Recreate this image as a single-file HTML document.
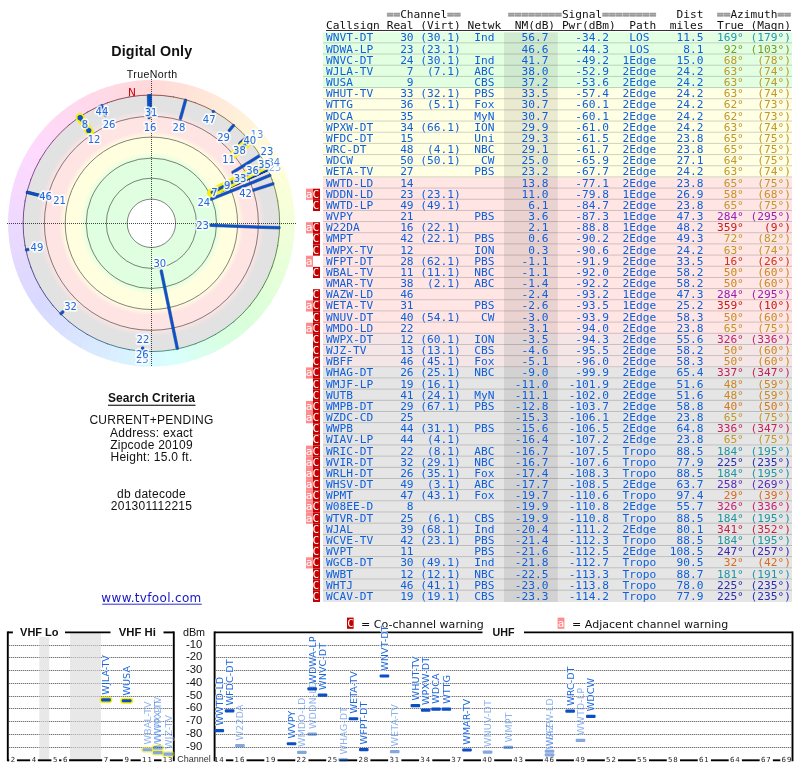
<!DOCTYPE html>
<html lang="en"><head><meta charset="utf-8"><title>TV Fool - Digital Only radar plot</title>
<style>html,body{margin:0;padding:0;background:#fff;overflow:hidden}svg{display:block}text{white-space:pre}</style></head><body>
<svg width="800" height="768" viewBox="0 0 800 768">
<rect width="800" height="768" fill="#fff"/>
<path d="M150.65,80.00 A143.3,143.3 0 0 1 159.65,80.24 L158.73,96.21 A127.30000000000001,127.30000000000001 0 0 0 150.73,96.00 Z" fill="#ffdad9" />
<path d="M158.15,80.16 A143.3,143.3 0 0 1 167.12,80.87 L165.37,96.77 A127.30000000000001,127.30000000000001 0 0 0 157.40,96.14 Z" fill="#ffdbd9" />
<path d="M165.63,80.71 A143.3,143.3 0 0 1 174.56,81.88 L171.97,97.67 A127.30000000000001,127.30000000000001 0 0 0 164.04,96.63 Z" fill="#ffddd9" />
<path d="M173.08,81.65 A143.3,143.3 0 0 1 181.93,83.29 L178.52,98.92 A127.30000000000001,127.30000000000001 0 0 0 170.66,97.46 Z" fill="#ffdfd9" />
<path d="M180.46,82.98 A143.3,143.3 0 0 1 189.21,85.08 L184.99,100.51 A127.30000000000001,127.30000000000001 0 0 0 177.21,98.64 Z" fill="#ffe1d9" />
<path d="M187.76,84.69 A143.3,143.3 0 0 1 196.40,87.25 L191.37,102.44 A127.30000000000001,127.30000000000001 0 0 0 183.70,100.17 Z" fill="#ffe2d9" />
<path d="M194.97,86.78 A143.3,143.3 0 0 1 203.45,89.79 L197.64,104.70 A127.30000000000001,127.30000000000001 0 0 0 190.10,102.03 Z" fill="#ffe4d9" />
<path d="M202.05,89.25 A143.3,143.3 0 0 1 210.37,92.70 L203.79,107.28 A127.30000000000001,127.30000000000001 0 0 0 196.40,104.22 Z" fill="#ffe6d9" />
<path d="M209.00,92.09 A143.3,143.3 0 0 1 217.12,95.96 L209.79,110.18 A127.30000000000001,127.30000000000001 0 0 0 202.57,106.74 Z" fill="#ffe8d9" />
<path d="M215.79,95.28 A143.3,143.3 0 0 1 223.70,99.58 L215.63,113.39 A127.30000000000001,127.30000000000001 0 0 0 208.60,109.57 Z" fill="#ffe9d9" />
<path d="M222.40,98.83 A143.3,143.3 0 0 1 230.07,103.53 L221.29,116.90 A127.30000000000001,127.30000000000001 0 0 0 214.47,112.72 Z" fill="#ffebd9" />
<path d="M228.82,102.71 A143.3,143.3 0 0 1 236.24,107.81 L226.76,120.71 A127.30000000000001,127.30000000000001 0 0 0 220.17,116.18 Z" fill="#ffedd9" />
<path d="M235.02,106.93 A143.3,143.3 0 0 1 242.16,112.41 L232.03,124.79 A127.30000000000001,127.30000000000001 0 0 0 225.68,119.92 Z" fill="#ffefd9" />
<path d="M241.00,111.46 A143.3,143.3 0 0 1 247.84,117.31 L237.07,129.14 A127.30000000000001,127.30000000000001 0 0 0 230.99,123.95 Z" fill="#fff0d9" />
<path d="M246.73,116.31 A143.3,143.3 0 0 1 253.26,122.50 L241.88,133.76 A127.30000000000001,127.30000000000001 0 0 0 236.08,128.25 Z" fill="#fff2d9" />
<path d="M252.20,121.44 A143.3,143.3 0 0 1 258.39,127.97 L246.45,138.62 A127.30000000000001,127.30000000000001 0 0 0 240.94,132.82 Z" fill="#fff4d9" />
<path d="M257.39,126.86 A143.3,143.3 0 0 1 263.24,133.70 L250.75,143.71 A127.30000000000001,127.30000000000001 0 0 0 245.56,137.63 Z" fill="#fff6d9" />
<path d="M262.29,132.54 A143.3,143.3 0 0 1 267.77,139.68 L254.78,149.02 A127.30000000000001,127.30000000000001 0 0 0 249.91,142.67 Z" fill="#fff7d9" />
<path d="M266.89,138.46 A143.3,143.3 0 0 1 271.99,145.88 L258.52,154.53 A127.30000000000001,127.30000000000001 0 0 0 253.99,147.94 Z" fill="#fff9d9" />
<path d="M271.17,144.63 A143.3,143.3 0 0 1 275.87,152.30 L261.98,160.23 A127.30000000000001,127.30000000000001 0 0 0 257.80,153.41 Z" fill="#fffbd9" />
<path d="M275.12,151.00 A143.3,143.3 0 0 1 279.42,158.91 L265.13,166.10 A127.30000000000001,127.30000000000001 0 0 0 261.31,159.07 Z" fill="#fffdd9" />
<path d="M278.74,157.58 A143.3,143.3 0 0 1 282.61,165.70 L267.96,172.13 A127.30000000000001,127.30000000000001 0 0 0 264.52,164.91 Z" fill="#fffed9" />
<path d="M282.00,164.33 A143.3,143.3 0 0 1 285.45,172.65 L270.48,178.30 A127.30000000000001,127.30000000000001 0 0 0 267.42,170.91 Z" fill="#feffd9" />
<path d="M284.91,171.25 A143.3,143.3 0 0 1 287.92,179.73 L272.67,184.60 A127.30000000000001,127.30000000000001 0 0 0 270.00,177.06 Z" fill="#fdffd9" />
<path d="M287.45,178.30 A143.3,143.3 0 0 1 290.01,186.94 L274.53,191.00 A127.30000000000001,127.30000000000001 0 0 0 272.26,183.33 Z" fill="#fbffd9" />
<path d="M289.62,185.49 A143.3,143.3 0 0 1 291.72,194.24 L276.06,197.49 A127.30000000000001,127.30000000000001 0 0 0 274.19,189.71 Z" fill="#f9ffd9" />
<path d="M291.41,192.77 A143.3,143.3 0 0 1 293.05,201.62 L277.24,204.04 A127.30000000000001,127.30000000000001 0 0 0 275.78,196.18 Z" fill="#f8ffd9" />
<path d="M292.82,200.14 A143.3,143.3 0 0 1 293.99,209.07 L278.07,210.66 A127.30000000000001,127.30000000000001 0 0 0 277.03,202.73 Z" fill="#f6ffd9" />
<path d="M293.83,207.58 A143.3,143.3 0 0 1 294.54,216.55 L278.56,217.30 A127.30000000000001,127.30000000000001 0 0 0 277.93,209.33 Z" fill="#f5ffd9" />
<path d="M294.46,215.05 A143.3,143.3 0 0 1 294.70,224.05 L278.70,223.97 A127.30000000000001,127.30000000000001 0 0 0 278.49,215.97 Z" fill="#f3ffd9" />
<path d="M294.70,222.55 A143.3,143.3 0 0 1 294.46,231.55 L278.49,230.63 A127.30000000000001,127.30000000000001 0 0 0 278.70,222.63 Z" fill="#f1ffd9" />
<path d="M294.54,230.05 A143.3,143.3 0 0 1 293.83,239.02 L277.93,237.27 A127.30000000000001,127.30000000000001 0 0 0 278.56,229.30 Z" fill="#f0ffd9" />
<path d="M293.99,237.53 A143.3,143.3 0 0 1 292.82,246.46 L277.03,243.87 A127.30000000000001,127.30000000000001 0 0 0 278.07,235.94 Z" fill="#eeffd9" />
<path d="M293.05,244.98 A143.3,143.3 0 0 1 291.41,253.83 L275.78,250.42 A127.30000000000001,127.30000000000001 0 0 0 277.24,242.56 Z" fill="#edffd9" />
<path d="M291.72,252.36 A143.3,143.3 0 0 1 289.62,261.11 L274.19,256.89 A127.30000000000001,127.30000000000001 0 0 0 276.06,249.11 Z" fill="#ebffd9" />
<path d="M290.01,259.66 A143.3,143.3 0 0 1 287.45,268.30 L272.26,263.27 A127.30000000000001,127.30000000000001 0 0 0 274.53,255.60 Z" fill="#e9ffd9" />
<path d="M287.92,266.87 A143.3,143.3 0 0 1 284.91,275.35 L270.00,269.54 A127.30000000000001,127.30000000000001 0 0 0 272.67,262.00 Z" fill="#e8ffd9" />
<path d="M285.45,273.95 A143.3,143.3 0 0 1 282.00,282.27 L267.42,275.69 A127.30000000000001,127.30000000000001 0 0 0 270.48,268.30 Z" fill="#e6ffd9" />
<path d="M282.61,280.90 A143.3,143.3 0 0 1 278.74,289.02 L264.52,281.69 A127.30000000000001,127.30000000000001 0 0 0 267.96,274.47 Z" fill="#e5ffd9" />
<path d="M279.42,287.69 A143.3,143.3 0 0 1 275.12,295.60 L261.31,287.53 A127.30000000000001,127.30000000000001 0 0 0 265.13,280.50 Z" fill="#e3ffd9" />
<path d="M275.87,294.30 A143.3,143.3 0 0 1 271.17,301.97 L257.80,293.19 A127.30000000000001,127.30000000000001 0 0 0 261.98,286.37 Z" fill="#e1ffd9" />
<path d="M271.99,300.72 A143.3,143.3 0 0 1 266.89,308.14 L253.99,298.66 A127.30000000000001,127.30000000000001 0 0 0 258.52,292.07 Z" fill="#dfffd9" />
<path d="M267.77,306.92 A143.3,143.3 0 0 1 262.29,314.06 L249.91,303.93 A127.30000000000001,127.30000000000001 0 0 0 254.78,297.58 Z" fill="#deffd9" />
<path d="M263.24,312.90 A143.3,143.3 0 0 1 257.39,319.74 L245.56,308.97 A127.30000000000001,127.30000000000001 0 0 0 250.75,302.89 Z" fill="#dcffd9" />
<path d="M258.39,318.63 A143.3,143.3 0 0 1 252.20,325.16 L240.94,313.78 A127.30000000000001,127.30000000000001 0 0 0 246.45,307.98 Z" fill="#daffd9" />
<path d="M253.26,324.10 A143.3,143.3 0 0 1 246.73,330.29 L236.08,318.35 A127.30000000000001,127.30000000000001 0 0 0 241.88,312.84 Z" fill="#d9ffda" />
<path d="M247.84,329.29 A143.3,143.3 0 0 1 241.00,335.14 L230.99,322.65 A127.30000000000001,127.30000000000001 0 0 0 237.07,317.46 Z" fill="#d9ffdc" />
<path d="M242.16,334.19 A143.3,143.3 0 0 1 235.02,339.67 L225.68,326.68 A127.30000000000001,127.30000000000001 0 0 0 232.03,321.81 Z" fill="#d9ffde" />
<path d="M236.24,338.79 A143.3,143.3 0 0 1 228.82,343.89 L220.17,330.42 A127.30000000000001,127.30000000000001 0 0 0 226.76,325.89 Z" fill="#d9ffdf" />
<path d="M230.07,343.07 A143.3,143.3 0 0 1 222.40,347.77 L214.47,333.88 A127.30000000000001,127.30000000000001 0 0 0 221.29,329.70 Z" fill="#d9ffe1" />
<path d="M223.70,347.02 A143.3,143.3 0 0 1 215.79,351.32 L208.60,337.03 A127.30000000000001,127.30000000000001 0 0 0 215.63,333.21 Z" fill="#d9ffe4" />
<path d="M217.12,350.64 A143.3,143.3 0 0 1 209.00,354.51 L202.57,339.86 A127.30000000000001,127.30000000000001 0 0 0 209.79,336.42 Z" fill="#d9ffe8" />
<path d="M210.37,353.90 A143.3,143.3 0 0 1 202.05,357.35 L196.40,342.38 A127.30000000000001,127.30000000000001 0 0 0 203.79,339.32 Z" fill="#d9ffec" />
<path d="M203.45,356.81 A143.3,143.3 0 0 1 194.97,359.82 L190.10,344.57 A127.30000000000001,127.30000000000001 0 0 0 197.64,341.90 Z" fill="#d9fff0" />
<path d="M196.40,359.35 A143.3,143.3 0 0 1 187.76,361.91 L183.70,346.43 A127.30000000000001,127.30000000000001 0 0 0 191.37,344.16 Z" fill="#d9fff4" />
<path d="M189.21,361.52 A143.3,143.3 0 0 1 180.46,363.62 L177.21,347.96 A127.30000000000001,127.30000000000001 0 0 0 184.99,346.09 Z" fill="#d9fff7" />
<path d="M181.93,363.31 A143.3,143.3 0 0 1 173.08,364.95 L170.66,349.14 A127.30000000000001,127.30000000000001 0 0 0 178.52,347.68 Z" fill="#d9fffa" />
<path d="M174.56,364.72 A143.3,143.3 0 0 1 165.63,365.89 L164.04,349.97 A127.30000000000001,127.30000000000001 0 0 0 171.97,348.93 Z" fill="#d9fffd" />
<path d="M167.12,365.73 A143.3,143.3 0 0 1 158.15,366.44 L157.40,350.46 A127.30000000000001,127.30000000000001 0 0 0 165.37,349.83 Z" fill="#d9fdff" />
<path d="M159.65,366.36 A143.3,143.3 0 0 1 150.65,366.60 L150.73,350.60 A127.30000000000001,127.30000000000001 0 0 0 158.73,350.39 Z" fill="#d9faff" />
<path d="M152.15,366.60 A143.3,143.3 0 0 1 143.15,366.36 L144.07,350.39 A127.30000000000001,127.30000000000001 0 0 0 152.07,350.60 Z" fill="#d9f8ff" />
<path d="M144.65,366.44 A143.3,143.3 0 0 1 135.68,365.73 L137.43,349.83 A127.30000000000001,127.30000000000001 0 0 0 145.40,350.46 Z" fill="#d9f6ff" />
<path d="M137.17,365.89 A143.3,143.3 0 0 1 128.24,364.72 L130.83,348.93 A127.30000000000001,127.30000000000001 0 0 0 138.76,349.97 Z" fill="#d9f4ff" />
<path d="M129.72,364.95 A143.3,143.3 0 0 1 120.87,363.31 L124.28,347.68 A127.30000000000001,127.30000000000001 0 0 0 132.14,349.14 Z" fill="#d9f2ff" />
<path d="M122.34,363.62 A143.3,143.3 0 0 1 113.59,361.52 L117.81,346.09 A127.30000000000001,127.30000000000001 0 0 0 125.59,347.96 Z" fill="#d9f0ff" />
<path d="M115.04,361.91 A143.3,143.3 0 0 1 106.40,359.35 L111.43,344.16 A127.30000000000001,127.30000000000001 0 0 0 119.10,346.43 Z" fill="#d9eeff" />
<path d="M107.83,359.82 A143.3,143.3 0 0 1 99.35,356.81 L105.16,341.90 A127.30000000000001,127.30000000000001 0 0 0 112.70,344.57 Z" fill="#d9ecff" />
<path d="M100.75,357.35 A143.3,143.3 0 0 1 92.43,353.90 L99.01,339.32 A127.30000000000001,127.30000000000001 0 0 0 106.40,342.38 Z" fill="#d9eaff" />
<path d="M93.80,354.51 A143.3,143.3 0 0 1 85.68,350.64 L93.01,336.42 A127.30000000000001,127.30000000000001 0 0 0 100.23,339.86 Z" fill="#d9e9ff" />
<path d="M87.01,351.32 A143.3,143.3 0 0 1 79.10,347.02 L87.17,333.21 A127.30000000000001,127.30000000000001 0 0 0 94.20,337.03 Z" fill="#d9e7ff" />
<path d="M80.40,347.77 A143.3,143.3 0 0 1 72.73,343.07 L81.51,329.70 A127.30000000000001,127.30000000000001 0 0 0 88.33,333.88 Z" fill="#d9e5ff" />
<path d="M73.98,343.89 A143.3,143.3 0 0 1 66.56,338.79 L76.04,325.89 A127.30000000000001,127.30000000000001 0 0 0 82.63,330.42 Z" fill="#d9e4ff" />
<path d="M67.78,339.67 A143.3,143.3 0 0 1 60.64,334.19 L70.77,321.81 A127.30000000000001,127.30000000000001 0 0 0 77.12,326.68 Z" fill="#d9e2ff" />
<path d="M61.80,335.14 A143.3,143.3 0 0 1 54.96,329.29 L65.73,317.46 A127.30000000000001,127.30000000000001 0 0 0 71.81,322.65 Z" fill="#d9e0ff" />
<path d="M56.07,330.29 A143.3,143.3 0 0 1 49.54,324.10 L60.92,312.84 A127.30000000000001,127.30000000000001 0 0 0 66.72,318.35 Z" fill="#d9dfff" />
<path d="M50.60,325.16 A143.3,143.3 0 0 1 44.41,318.63 L56.35,307.98 A127.30000000000001,127.30000000000001 0 0 0 61.86,313.78 Z" fill="#d9ddff" />
<path d="M45.41,319.74 A143.3,143.3 0 0 1 39.56,312.90 L52.05,302.89 A127.30000000000001,127.30000000000001 0 0 0 57.24,308.97 Z" fill="#d9dbff" />
<path d="M40.51,314.06 A143.3,143.3 0 0 1 35.03,306.92 L48.02,297.58 A127.30000000000001,127.30000000000001 0 0 0 52.89,303.93 Z" fill="#d9daff" />
<path d="M35.91,308.14 A143.3,143.3 0 0 1 30.81,300.72 L44.28,292.07 A127.30000000000001,127.30000000000001 0 0 0 48.81,298.66 Z" fill="#d9d9ff" />
<path d="M31.63,301.97 A143.3,143.3 0 0 1 26.93,294.30 L40.82,286.37 A127.30000000000001,127.30000000000001 0 0 0 45.00,293.19 Z" fill="#dbd9ff" />
<path d="M27.68,295.60 A143.3,143.3 0 0 1 23.38,287.69 L37.67,280.50 A127.30000000000001,127.30000000000001 0 0 0 41.49,287.53 Z" fill="#ddd9ff" />
<path d="M24.06,289.02 A143.3,143.3 0 0 1 20.19,280.90 L34.84,274.47 A127.30000000000001,127.30000000000001 0 0 0 38.28,281.69 Z" fill="#ded9ff" />
<path d="M20.80,282.27 A143.3,143.3 0 0 1 17.35,273.95 L32.32,268.30 A127.30000000000001,127.30000000000001 0 0 0 35.38,275.69 Z" fill="#e0d9ff" />
<path d="M17.89,275.35 A143.3,143.3 0 0 1 14.88,266.87 L30.13,262.00 A127.30000000000001,127.30000000000001 0 0 0 32.80,269.54 Z" fill="#e2d9ff" />
<path d="M15.35,268.30 A143.3,143.3 0 0 1 12.79,259.66 L28.27,255.60 A127.30000000000001,127.30000000000001 0 0 0 30.54,263.27 Z" fill="#e3d9ff" />
<path d="M13.18,261.11 A143.3,143.3 0 0 1 11.08,252.36 L26.74,249.11 A127.30000000000001,127.30000000000001 0 0 0 28.61,256.89 Z" fill="#e5d9ff" />
<path d="M11.39,253.83 A143.3,143.3 0 0 1 9.75,244.98 L25.56,242.56 A127.30000000000001,127.30000000000001 0 0 0 27.02,250.42 Z" fill="#e7d9ff" />
<path d="M9.98,246.46 A143.3,143.3 0 0 1 8.81,237.53 L24.73,235.94 A127.30000000000001,127.30000000000001 0 0 0 25.77,243.87 Z" fill="#e8d9ff" />
<path d="M8.97,239.02 A143.3,143.3 0 0 1 8.26,230.05 L24.24,229.30 A127.30000000000001,127.30000000000001 0 0 0 24.87,237.27 Z" fill="#ead9ff" />
<path d="M8.34,231.55 A143.3,143.3 0 0 1 8.10,222.55 L24.10,222.63 A127.30000000000001,127.30000000000001 0 0 0 24.31,230.63 Z" fill="#ecd9ff" />
<path d="M8.10,224.05 A143.3,143.3 0 0 1 8.34,215.05 L24.31,215.97 A127.30000000000001,127.30000000000001 0 0 0 24.10,223.97 Z" fill="#eed9ff" />
<path d="M8.26,216.55 A143.3,143.3 0 0 1 8.97,207.58 L24.87,209.33 A127.30000000000001,127.30000000000001 0 0 0 24.24,217.30 Z" fill="#f0d9ff" />
<path d="M8.81,209.07 A143.3,143.3 0 0 1 9.98,200.14 L25.77,202.73 A127.30000000000001,127.30000000000001 0 0 0 24.73,210.66 Z" fill="#f1d9ff" />
<path d="M9.75,201.62 A143.3,143.3 0 0 1 11.39,192.77 L27.02,196.18 A127.30000000000001,127.30000000000001 0 0 0 25.56,204.04 Z" fill="#f3d9ff" />
<path d="M11.08,194.24 A143.3,143.3 0 0 1 13.18,185.49 L28.61,189.71 A127.30000000000001,127.30000000000001 0 0 0 26.74,197.49 Z" fill="#f5d9ff" />
<path d="M12.79,186.94 A143.3,143.3 0 0 1 15.35,178.30 L30.54,183.33 A127.30000000000001,127.30000000000001 0 0 0 28.27,191.00 Z" fill="#f7d9ff" />
<path d="M14.88,179.73 A143.3,143.3 0 0 1 17.89,171.25 L32.80,177.06 A127.30000000000001,127.30000000000001 0 0 0 30.13,184.60 Z" fill="#f9d9ff" />
<path d="M17.35,172.65 A143.3,143.3 0 0 1 20.80,164.33 L35.38,170.91 A127.30000000000001,127.30000000000001 0 0 0 32.32,178.30 Z" fill="#fad9ff" />
<path d="M20.19,165.70 A143.3,143.3 0 0 1 24.06,157.58 L38.28,164.91 A127.30000000000001,127.30000000000001 0 0 0 34.84,172.13 Z" fill="#fcd9ff" />
<path d="M23.38,158.91 A143.3,143.3 0 0 1 27.68,151.00 L41.49,159.07 A127.30000000000001,127.30000000000001 0 0 0 37.67,166.10 Z" fill="#fed9ff" />
<path d="M26.93,152.30 A143.3,143.3 0 0 1 31.63,144.63 L45.00,153.41 A127.30000000000001,127.30000000000001 0 0 0 40.82,160.23 Z" fill="#ffd9fe" />
<path d="M30.81,145.88 A143.3,143.3 0 0 1 35.91,138.46 L48.81,147.94 A127.30000000000001,127.30000000000001 0 0 0 44.28,154.53 Z" fill="#ffd9fc" />
<path d="M35.03,139.68 A143.3,143.3 0 0 1 40.51,132.54 L52.89,142.67 A127.30000000000001,127.30000000000001 0 0 0 48.02,149.02 Z" fill="#ffd9fa" />
<path d="M39.56,133.70 A143.3,143.3 0 0 1 45.41,126.86 L57.24,137.63 A127.30000000000001,127.30000000000001 0 0 0 52.05,143.71 Z" fill="#ffd9f8" />
<path d="M44.41,127.97 A143.3,143.3 0 0 1 50.60,121.44 L61.86,132.82 A127.30000000000001,127.30000000000001 0 0 0 56.35,138.62 Z" fill="#ffd9f6" />
<path d="M49.54,122.50 A143.3,143.3 0 0 1 56.07,116.31 L66.72,128.25 A127.30000000000001,127.30000000000001 0 0 0 60.92,133.76 Z" fill="#ffd9f4" />
<path d="M54.96,117.31 A143.3,143.3 0 0 1 61.80,111.46 L71.81,123.95 A127.30000000000001,127.30000000000001 0 0 0 65.73,129.14 Z" fill="#ffd9f3" />
<path d="M60.64,112.41 A143.3,143.3 0 0 1 67.78,106.93 L77.12,119.92 A127.30000000000001,127.30000000000001 0 0 0 70.77,124.79 Z" fill="#ffd9f1" />
<path d="M66.56,107.81 A143.3,143.3 0 0 1 73.98,102.71 L82.63,116.18 A127.30000000000001,127.30000000000001 0 0 0 76.04,120.71 Z" fill="#ffd9ef" />
<path d="M72.73,103.53 A143.3,143.3 0 0 1 80.40,98.83 L88.33,112.72 A127.30000000000001,127.30000000000001 0 0 0 81.51,116.90 Z" fill="#ffd9ed" />
<path d="M79.10,99.58 A143.3,143.3 0 0 1 87.01,95.28 L94.20,109.57 A127.30000000000001,127.30000000000001 0 0 0 87.17,113.39 Z" fill="#ffd9eb" />
<path d="M85.68,95.96 A143.3,143.3 0 0 1 93.80,92.09 L100.23,106.74 A127.30000000000001,127.30000000000001 0 0 0 93.01,110.18 Z" fill="#ffd9e9" />
<path d="M92.43,92.70 A143.3,143.3 0 0 1 100.75,89.25 L106.40,104.22 A127.30000000000001,127.30000000000001 0 0 0 99.01,107.28 Z" fill="#ffd9e7" />
<path d="M99.35,89.79 A143.3,143.3 0 0 1 107.83,86.78 L112.70,102.03 A127.30000000000001,127.30000000000001 0 0 0 105.16,104.70 Z" fill="#ffd9e5" />
<path d="M106.40,87.25 A143.3,143.3 0 0 1 115.04,84.69 L119.10,100.17 A127.30000000000001,127.30000000000001 0 0 0 111.43,102.44 Z" fill="#ffd9e3" />
<path d="M113.59,85.08 A143.3,143.3 0 0 1 122.34,82.98 L125.59,98.64 A127.30000000000001,127.30000000000001 0 0 0 117.81,100.51 Z" fill="#ffd9e1" />
<path d="M120.87,83.29 A143.3,143.3 0 0 1 129.72,81.65 L132.14,97.46 A127.30000000000001,127.30000000000001 0 0 0 124.28,98.92 Z" fill="#ffd9df" />
<path d="M128.24,81.88 A143.3,143.3 0 0 1 137.17,80.71 L138.76,96.63 A127.30000000000001,127.30000000000001 0 0 0 130.83,97.67 Z" fill="#ffd9de" />
<path d="M135.68,80.87 A143.3,143.3 0 0 1 144.65,80.16 L145.40,96.14 A127.30000000000001,127.30000000000001 0 0 0 137.43,96.77 Z" fill="#ffd9dc" />
<path d="M143.15,80.24 A143.3,143.3 0 0 1 152.15,80.00 L152.07,96.00 A127.30000000000001,127.30000000000001 0 0 0 144.07,96.21 Z" fill="#ffd9da" />
<defs><radialGradient id="bands" gradientUnits="userSpaceOnUse" cx="151.4" cy="223.3" r="128.3"><stop offset="0.0000" stop-color="#fff"/><stop offset="0.1886" stop-color="#fff"/><stop offset="0.1887" stop-color="#e0ffe0"/><stop offset="0.5043" stop-color="#e0ffe0"/><stop offset="0.5549" stop-color="#ffffe0"/><stop offset="0.6680" stop-color="#ffffe0"/><stop offset="0.7186" stop-color="#ffe4e4"/><stop offset="0.8301" stop-color="#ffe4e4"/><stop offset="0.8807" stop-color="#e2e2e2"/><stop offset="1.0000" stop-color="#e2e2e2"/></radialGradient></defs>
<circle cx="151.4" cy="223.3" r="128.3" fill="url(#bands)"/>
<circle cx="151.4" cy="223.3" r="24.2" fill="none" stroke="#222" stroke-opacity="0.7" stroke-width="0.8"/>
<circle cx="151.4" cy="223.3" r="45.1" fill="none" stroke="#222" stroke-opacity="0.7" stroke-width="0.8"/>
<circle cx="151.4" cy="223.3" r="65.2" fill="none" stroke="#222" stroke-opacity="0.7" stroke-width="0.8"/>
<circle cx="151.4" cy="223.3" r="86.2" fill="none" stroke="#222" stroke-opacity="0.7" stroke-width="0.8"/>
<circle cx="151.4" cy="223.3" r="107.0" fill="none" stroke="#222" stroke-opacity="0.7" stroke-width="0.8"/>
<path d="M150.95,95.00 A128.3,128.3 0 0 1 174.12,97.03" fill="none" stroke="#732922" stroke-opacity="0.85" stroke-width="0.9"/>
<path d="M173.24,96.87 A128.3,128.3 0 0 1 195.70,102.89" fill="none" stroke="#733722" stroke-opacity="0.85" stroke-width="0.9"/>
<path d="M194.86,102.58 A128.3,128.3 0 0 1 215.94,112.41" fill="none" stroke="#734422" stroke-opacity="0.85" stroke-width="0.9"/>
<path d="M215.16,111.97 A128.3,128.3 0 0 1 234.21,125.30" fill="none" stroke="#735122" stroke-opacity="0.85" stroke-width="0.9"/>
<path d="M233.53,124.73 A128.3,128.3 0 0 1 249.97,141.17" fill="none" stroke="#735f22" stroke-opacity="0.85" stroke-width="0.9"/>
<path d="M249.40,140.49 A128.3,128.3 0 0 1 262.73,159.54" fill="none" stroke="#736c22" stroke-opacity="0.85" stroke-width="0.9"/>
<path d="M262.29,158.76 A128.3,128.3 0 0 1 272.12,179.84" fill="none" stroke="#6c7322" stroke-opacity="0.85" stroke-width="0.9"/>
<path d="M271.81,179.00 A128.3,128.3 0 0 1 277.83,201.46" fill="none" stroke="#5f7322" stroke-opacity="0.85" stroke-width="0.9"/>
<path d="M277.67,200.58 A128.3,128.3 0 0 1 279.70,223.75" fill="none" stroke="#517322" stroke-opacity="0.85" stroke-width="0.9"/>
<path d="M279.70,222.85 A128.3,128.3 0 0 1 277.67,246.02" fill="none" stroke="#447322" stroke-opacity="0.85" stroke-width="0.9"/>
<path d="M277.83,245.14 A128.3,128.3 0 0 1 271.81,267.60" fill="none" stroke="#377322" stroke-opacity="0.85" stroke-width="0.9"/>
<path d="M272.12,266.76 A128.3,128.3 0 0 1 262.29,287.84" fill="none" stroke="#297322" stroke-opacity="0.85" stroke-width="0.9"/>
<path d="M262.73,287.06 A128.3,128.3 0 0 1 249.40,306.11" fill="none" stroke="#227329" stroke-opacity="0.85" stroke-width="0.9"/>
<path d="M249.97,305.43 A128.3,128.3 0 0 1 233.53,321.87" fill="none" stroke="#227337" stroke-opacity="0.85" stroke-width="0.9"/>
<path d="M234.21,321.30 A128.3,128.3 0 0 1 215.16,334.63" fill="none" stroke="#227344" stroke-opacity="0.85" stroke-width="0.9"/>
<path d="M215.94,334.19 A128.3,128.3 0 0 1 194.86,344.02" fill="none" stroke="#227351" stroke-opacity="0.85" stroke-width="0.9"/>
<path d="M195.70,343.71 A128.3,128.3 0 0 1 173.24,349.73" fill="none" stroke="#22735f" stroke-opacity="0.85" stroke-width="0.9"/>
<path d="M174.12,349.57 A128.3,128.3 0 0 1 150.95,351.60" fill="none" stroke="#22736c" stroke-opacity="0.85" stroke-width="0.9"/>
<path d="M151.85,351.60 A128.3,128.3 0 0 1 128.68,349.57" fill="none" stroke="#226c73" stroke-opacity="0.85" stroke-width="0.9"/>
<path d="M129.56,349.73 A128.3,128.3 0 0 1 107.10,343.71" fill="none" stroke="#225f73" stroke-opacity="0.85" stroke-width="0.9"/>
<path d="M107.94,344.02 A128.3,128.3 0 0 1 86.86,334.19" fill="none" stroke="#225173" stroke-opacity="0.85" stroke-width="0.9"/>
<path d="M87.64,334.63 A128.3,128.3 0 0 1 68.59,321.30" fill="none" stroke="#224473" stroke-opacity="0.85" stroke-width="0.9"/>
<path d="M69.27,321.87 A128.3,128.3 0 0 1 52.83,305.43" fill="none" stroke="#223773" stroke-opacity="0.85" stroke-width="0.9"/>
<path d="M53.40,306.11 A128.3,128.3 0 0 1 40.07,287.06" fill="none" stroke="#222973" stroke-opacity="0.85" stroke-width="0.9"/>
<path d="M40.51,287.84 A128.3,128.3 0 0 1 30.68,266.76" fill="none" stroke="#292273" stroke-opacity="0.85" stroke-width="0.9"/>
<path d="M30.99,267.60 A128.3,128.3 0 0 1 24.97,245.14" fill="none" stroke="#372273" stroke-opacity="0.85" stroke-width="0.9"/>
<path d="M25.13,246.02 A128.3,128.3 0 0 1 23.10,222.85" fill="none" stroke="#442273" stroke-opacity="0.85" stroke-width="0.9"/>
<path d="M23.10,223.75 A128.3,128.3 0 0 1 25.13,200.58" fill="none" stroke="#512273" stroke-opacity="0.85" stroke-width="0.9"/>
<path d="M24.97,201.46 A128.3,128.3 0 0 1 30.99,179.00" fill="none" stroke="#5f2273" stroke-opacity="0.85" stroke-width="0.9"/>
<path d="M30.68,179.84 A128.3,128.3 0 0 1 40.51,158.76" fill="none" stroke="#6c2273" stroke-opacity="0.85" stroke-width="0.9"/>
<path d="M40.07,159.54 A128.3,128.3 0 0 1 53.40,140.49" fill="none" stroke="#73226c" stroke-opacity="0.85" stroke-width="0.9"/>
<path d="M52.83,141.17 A128.3,128.3 0 0 1 69.27,124.73" fill="none" stroke="#73225f" stroke-opacity="0.85" stroke-width="0.9"/>
<path d="M68.59,125.30 A128.3,128.3 0 0 1 87.64,111.97" fill="none" stroke="#732251" stroke-opacity="0.85" stroke-width="0.9"/>
<path d="M86.86,112.41 A128.3,128.3 0 0 1 107.94,102.58" fill="none" stroke="#732244" stroke-opacity="0.85" stroke-width="0.9"/>
<path d="M107.10,102.89 A128.3,128.3 0 0 1 129.56,96.87" fill="none" stroke="#732237" stroke-opacity="0.85" stroke-width="0.9"/>
<path d="M128.68,97.03 A128.3,128.3 0 0 1 151.85,95.00" fill="none" stroke="#732229" stroke-opacity="0.85" stroke-width="0.9"/>
<line x1="7" y1="223.5" x2="296" y2="223.5" stroke="#000" stroke-width="1" stroke-dasharray="1 1" stroke-opacity="0.72"/>
<line x1="151.5" y1="79" x2="151.5" y2="366.5" stroke="#000" stroke-width="1" stroke-dasharray="1 1" stroke-opacity="0.72"/>
<text x="131.9" y="96.2" text-anchor="middle" font-family="'DejaVu Sans','Liberation Sans',sans-serif" font-size="10.6px" fill="#cc0000">N</text>
<line x1="142.49" y1="350.69" x2="142.49" y2="350.69" stroke="#001a50" stroke-opacity="0.5" stroke-width="3.5" stroke-linecap="round"/>
<line x1="142.49" y1="350.69" x2="142.49" y2="350.69" stroke="#0a52cc" stroke-width="2.5" stroke-linecap="round"/>
<line x1="80.66" y1="118.43" x2="79.99" y2="117.43" stroke="#f8f000" stroke-width="8.2" stroke-linecap="round"/>
<line x1="79.99" y1="117.43" x2="79.99" y2="117.43" stroke="#001a50" stroke-opacity="0.5" stroke-width="3.5" stroke-linecap="round"/>
<line x1="79.99" y1="117.43" x2="79.99" y2="117.43" stroke="#0a52cc" stroke-width="2.5" stroke-linecap="round"/>
<line x1="213.31" y1="111.61" x2="213.31" y2="111.61" stroke="#001a50" stroke-opacity="0.5" stroke-width="3.5" stroke-linecap="round"/>
<line x1="213.31" y1="111.61" x2="213.31" y2="111.61" stroke="#0a52cc" stroke-width="2.5" stroke-linecap="round"/>
<line x1="28.02" y1="249.53" x2="26.49" y2="249.85" stroke="#001a50" stroke-opacity="0.5" stroke-width="3.5" stroke-linecap="round"/>
<line x1="28.02" y1="249.53" x2="26.49" y2="249.85" stroke="#0a52cc" stroke-width="2.5" stroke-linecap="round"/>
<line x1="142.62" y1="348.92" x2="142.49" y2="350.69" stroke="#001a50" stroke-opacity="0.5" stroke-width="3.5" stroke-linecap="round"/>
<line x1="142.62" y1="348.92" x2="142.49" y2="350.69" stroke="#0a52cc" stroke-width="2.5" stroke-linecap="round"/>
<line x1="62.87" y1="311.83" x2="61.10" y2="313.60" stroke="#001a50" stroke-opacity="0.5" stroke-width="3.5" stroke-linecap="round"/>
<line x1="62.87" y1="311.83" x2="61.10" y2="313.60" stroke="#0a52cc" stroke-width="2.5" stroke-linecap="round"/>
<line x1="142.67" y1="348.09" x2="142.49" y2="350.69" stroke="#001a50" stroke-opacity="0.5" stroke-width="3.5" stroke-linecap="round"/>
<line x1="142.67" y1="348.09" x2="142.49" y2="350.69" stroke="#0a52cc" stroke-width="2.5" stroke-linecap="round"/>
<line x1="264.49" y1="170.56" x2="267.14" y2="169.33" stroke="#001a50" stroke-opacity="0.5" stroke-width="3.5" stroke-linecap="round"/>
<line x1="264.49" y1="170.56" x2="267.14" y2="169.33" stroke="#0a52cc" stroke-width="2.5" stroke-linecap="round"/>
<line x1="100.94" y1="109.97" x2="99.46" y2="106.64" stroke="#001a50" stroke-opacity="0.5" stroke-width="3.5" stroke-linecap="round"/>
<line x1="100.94" y1="109.97" x2="99.46" y2="106.64" stroke="#0a52cc" stroke-width="2.5" stroke-linecap="round"/>
<line x1="263.46" y1="171.05" x2="267.14" y2="169.33" stroke="#001a50" stroke-opacity="0.5" stroke-width="3.5" stroke-linecap="round"/>
<line x1="263.46" y1="171.05" x2="267.14" y2="169.33" stroke="#0a52cc" stroke-width="2.5" stroke-linecap="round"/>
<line x1="229.27" y1="130.50" x2="233.48" y2="125.48" stroke="#001a50" stroke-opacity="0.5" stroke-width="3.5" stroke-linecap="round"/>
<line x1="229.27" y1="130.50" x2="233.48" y2="125.48" stroke="#0a52cc" stroke-width="2.5" stroke-linecap="round"/>
<line x1="240.11" y1="143.42" x2="246.30" y2="137.85" stroke="#001a50" stroke-opacity="0.5" stroke-width="3.5" stroke-linecap="round"/>
<line x1="240.11" y1="143.42" x2="246.30" y2="137.85" stroke="#0a52cc" stroke-width="2.5" stroke-linecap="round"/>
<line x1="240.03" y1="143.49" x2="246.30" y2="137.85" stroke="#001a50" stroke-opacity="0.5" stroke-width="3.5" stroke-linecap="round"/>
<line x1="240.03" y1="143.49" x2="246.30" y2="137.85" stroke="#0a52cc" stroke-width="2.5" stroke-linecap="round"/>
<line x1="105.61" y1="115.43" x2="101.50" y2="105.75" stroke="#001a50" stroke-opacity="0.5" stroke-width="3.5" stroke-linecap="round"/>
<line x1="105.61" y1="115.43" x2="101.50" y2="105.75" stroke="#0a52cc" stroke-width="2.5" stroke-linecap="round"/>
<line x1="238.06" y1="150.58" x2="249.22" y2="141.22" stroke="#001a50" stroke-opacity="0.5" stroke-width="3.5" stroke-linecap="round"/>
<line x1="238.06" y1="150.58" x2="249.22" y2="141.22" stroke="#0a52cc" stroke-width="2.5" stroke-linecap="round"/>
<line x1="236.74" y1="151.69" x2="249.22" y2="141.22" stroke="#f8f000" stroke-width="8.2" stroke-linecap="round"/>
<line x1="237.66" y1="150.92" x2="249.22" y2="141.22" stroke="#001a50" stroke-opacity="0.5" stroke-width="3.5" stroke-linecap="round"/>
<line x1="237.66" y1="150.92" x2="249.22" y2="141.22" stroke="#0a52cc" stroke-width="2.5" stroke-linecap="round"/>
<line x1="89.80" y1="131.98" x2="79.99" y2="117.43" stroke="#f8f000" stroke-width="8.2" stroke-linecap="round"/>
<line x1="89.13" y1="130.98" x2="79.99" y2="117.43" stroke="#001a50" stroke-opacity="0.5" stroke-width="3.5" stroke-linecap="round"/>
<line x1="89.13" y1="130.98" x2="79.99" y2="117.43" stroke="#0a52cc" stroke-width="2.5" stroke-linecap="round"/>
<line x1="252.04" y1="176.37" x2="267.14" y2="169.33" stroke="#001a50" stroke-opacity="0.5" stroke-width="3.5" stroke-linecap="round"/>
<line x1="252.04" y1="176.37" x2="267.14" y2="169.33" stroke="#0a52cc" stroke-width="2.5" stroke-linecap="round"/>
<line x1="236.38" y1="151.99" x2="249.22" y2="141.22" stroke="#001a50" stroke-opacity="0.5" stroke-width="3.5" stroke-linecap="round"/>
<line x1="236.38" y1="151.99" x2="249.22" y2="141.22" stroke="#0a52cc" stroke-width="2.5" stroke-linecap="round"/>
<line x1="150.44" y1="112.78" x2="150.29" y2="95.60" stroke="#001a50" stroke-opacity="0.5" stroke-width="3.5" stroke-linecap="round"/>
<line x1="150.44" y1="112.78" x2="150.29" y2="95.60" stroke="#0a52cc" stroke-width="2.5" stroke-linecap="round"/>
<line x1="44.46" y1="196.64" x2="27.49" y2="192.41" stroke="#001a50" stroke-opacity="0.5" stroke-width="3.5" stroke-linecap="round"/>
<line x1="44.46" y1="196.64" x2="27.49" y2="192.41" stroke="#0a52cc" stroke-width="2.5" stroke-linecap="round"/>
<line x1="235.03" y1="153.13" x2="249.22" y2="141.22" stroke="#001a50" stroke-opacity="0.5" stroke-width="3.5" stroke-linecap="round"/>
<line x1="235.03" y1="153.13" x2="249.22" y2="141.22" stroke="#0a52cc" stroke-width="2.5" stroke-linecap="round"/>
<line x1="233.95" y1="154.03" x2="249.22" y2="141.22" stroke="#f8f000" stroke-width="8.2" stroke-linecap="round"/>
<line x1="234.87" y1="153.26" x2="249.22" y2="141.22" stroke="#001a50" stroke-opacity="0.5" stroke-width="3.5" stroke-linecap="round"/>
<line x1="234.87" y1="153.26" x2="249.22" y2="141.22" stroke="#0a52cc" stroke-width="2.5" stroke-linecap="round"/>
<line x1="180.49" y1="118.40" x2="185.53" y2="100.24" stroke="#001a50" stroke-opacity="0.5" stroke-width="3.5" stroke-linecap="round"/>
<line x1="180.49" y1="118.40" x2="185.53" y2="100.24" stroke="#0a52cc" stroke-width="2.5" stroke-linecap="round"/>
<line x1="246.12" y1="175.04" x2="265.18" y2="165.33" stroke="#f8f000" stroke-width="8.2" stroke-linecap="round"/>
<line x1="247.19" y1="174.49" x2="265.18" y2="165.33" stroke="#001a50" stroke-opacity="0.5" stroke-width="3.5" stroke-linecap="round"/>
<line x1="247.19" y1="174.49" x2="265.18" y2="165.33" stroke="#0a52cc" stroke-width="2.5" stroke-linecap="round"/>
<line x1="253.25" y1="190.21" x2="272.85" y2="183.84" stroke="#001a50" stroke-opacity="0.5" stroke-width="3.5" stroke-linecap="round"/>
<line x1="253.25" y1="190.21" x2="272.85" y2="183.84" stroke="#0a52cc" stroke-width="2.5" stroke-linecap="round"/>
<line x1="149.00" y1="117.70" x2="148.50" y2="95.63" stroke="#001a50" stroke-opacity="0.5" stroke-width="3.5" stroke-linecap="round"/>
<line x1="149.00" y1="117.70" x2="148.50" y2="95.63" stroke="#0a52cc" stroke-width="2.5" stroke-linecap="round"/>
<line x1="50.42" y1="198.12" x2="27.49" y2="192.41" stroke="#001a50" stroke-opacity="0.5" stroke-width="3.5" stroke-linecap="round"/>
<line x1="50.42" y1="198.12" x2="27.49" y2="192.41" stroke="#0a52cc" stroke-width="2.5" stroke-linecap="round"/>
<line x1="243.27" y1="180.46" x2="267.14" y2="169.33" stroke="#001a50" stroke-opacity="0.5" stroke-width="3.5" stroke-linecap="round"/>
<line x1="243.27" y1="180.46" x2="267.14" y2="169.33" stroke="#0a52cc" stroke-width="2.5" stroke-linecap="round"/>
<line x1="233.03" y1="172.29" x2="259.70" y2="155.63" stroke="#001a50" stroke-opacity="0.5" stroke-width="3.5" stroke-linecap="round"/>
<line x1="233.03" y1="172.29" x2="259.70" y2="155.63" stroke="#0a52cc" stroke-width="2.5" stroke-linecap="round"/>
<line x1="236.10" y1="183.81" x2="267.14" y2="169.33" stroke="#001a50" stroke-opacity="0.5" stroke-width="3.5" stroke-linecap="round"/>
<line x1="236.10" y1="183.81" x2="267.14" y2="169.33" stroke="#0a52cc" stroke-width="2.5" stroke-linecap="round"/>
<line x1="225.95" y1="185.32" x2="265.18" y2="165.33" stroke="#001a50" stroke-opacity="0.5" stroke-width="3.5" stroke-linecap="round"/>
<line x1="225.95" y1="185.32" x2="265.18" y2="165.33" stroke="#0a52cc" stroke-width="2.5" stroke-linecap="round"/>
<line x1="224.91" y1="187.44" x2="266.18" y2="167.32" stroke="#001a50" stroke-opacity="0.5" stroke-width="3.5" stroke-linecap="round"/>
<line x1="224.91" y1="187.44" x2="266.18" y2="167.32" stroke="#0a52cc" stroke-width="2.5" stroke-linecap="round"/>
<line x1="221.57" y1="190.58" x2="267.14" y2="169.33" stroke="#001a50" stroke-opacity="0.5" stroke-width="3.5" stroke-linecap="round"/>
<line x1="221.57" y1="190.58" x2="267.14" y2="169.33" stroke="#0a52cc" stroke-width="2.5" stroke-linecap="round"/>
<line x1="221.38" y1="190.67" x2="267.14" y2="169.33" stroke="#001a50" stroke-opacity="0.5" stroke-width="3.5" stroke-linecap="round"/>
<line x1="221.38" y1="190.67" x2="267.14" y2="169.33" stroke="#0a52cc" stroke-width="2.5" stroke-linecap="round"/>
<line x1="219.73" y1="188.48" x2="265.18" y2="165.33" stroke="#001a50" stroke-opacity="0.5" stroke-width="3.5" stroke-linecap="round"/>
<line x1="219.73" y1="188.48" x2="265.18" y2="165.33" stroke="#0a52cc" stroke-width="2.5" stroke-linecap="round"/>
<line x1="218.29" y1="187.74" x2="264.15" y2="163.35" stroke="#001a50" stroke-opacity="0.5" stroke-width="3.5" stroke-linecap="round"/>
<line x1="218.29" y1="187.74" x2="264.15" y2="163.35" stroke="#0a52cc" stroke-width="2.5" stroke-linecap="round"/>
<line x1="218.29" y1="187.74" x2="264.15" y2="163.35" stroke="#001a50" stroke-opacity="0.5" stroke-width="3.5" stroke-linecap="round"/>
<line x1="218.29" y1="187.74" x2="264.15" y2="163.35" stroke="#0a52cc" stroke-width="2.5" stroke-linecap="round"/>
<line x1="216.39" y1="190.18" x2="265.18" y2="165.33" stroke="#001a50" stroke-opacity="0.5" stroke-width="3.5" stroke-linecap="round"/>
<line x1="216.39" y1="190.18" x2="265.18" y2="165.33" stroke="#0a52cc" stroke-width="2.5" stroke-linecap="round"/>
<line x1="211.80" y1="192.53" x2="265.18" y2="165.33" stroke="#f8f000" stroke-width="8.2" stroke-linecap="round"/>
<line x1="212.87" y1="191.98" x2="265.18" y2="165.33" stroke="#001a50" stroke-opacity="0.5" stroke-width="3.5" stroke-linecap="round"/>
<line x1="212.87" y1="191.98" x2="265.18" y2="165.33" stroke="#0a52cc" stroke-width="2.5" stroke-linecap="round"/>
<line x1="211.15" y1="192.86" x2="265.18" y2="165.33" stroke="#f8f000" stroke-width="8.2" stroke-linecap="round"/>
<line x1="212.22" y1="192.31" x2="265.18" y2="165.33" stroke="#001a50" stroke-opacity="0.5" stroke-width="3.5" stroke-linecap="round"/>
<line x1="212.22" y1="192.31" x2="265.18" y2="165.33" stroke="#0a52cc" stroke-width="2.5" stroke-linecap="round"/>
<line x1="211.12" y1="199.17" x2="269.80" y2="175.46" stroke="#001a50" stroke-opacity="0.5" stroke-width="3.5" stroke-linecap="round"/>
<line x1="211.12" y1="199.17" x2="269.80" y2="175.46" stroke="#0a52cc" stroke-width="2.5" stroke-linecap="round"/>
<line x1="210.67" y1="225.37" x2="279.02" y2="227.76" stroke="#001a50" stroke-opacity="0.5" stroke-width="3.5" stroke-linecap="round"/>
<line x1="210.67" y1="225.37" x2="279.02" y2="227.76" stroke="#0a52cc" stroke-width="2.5" stroke-linecap="round"/>
<line x1="161.29" y1="271.08" x2="177.30" y2="348.35" stroke="#001a50" stroke-opacity="0.5" stroke-width="3.5" stroke-linecap="round"/>
<line x1="161.29" y1="271.08" x2="177.30" y2="348.35" stroke="#0a52cc" stroke-width="2.5" stroke-linecap="round"/>
<circle cx="80.16" cy="117.68" r="2.7" fill="#0a52cc"/>
<circle cx="88.79" cy="130.48" r="2.6" fill="#0a52cc"/>
<g font-family="'DejaVu Sans','Liberation Sans',sans-serif" font-size="10px" text-anchor="middle" fill="#2068dc" stroke="#fff" stroke-linejoin="round" paint-order="stroke" style="paint-order:stroke">
<text x="275.00" y="170.55" stroke-width="3.4" stroke-opacity="0.8" fill-opacity="0.55">25</text>
<text x="273.80" y="165.55" stroke-width="3.4" stroke-opacity="0.8" fill-opacity="0.8">34</text>
<text x="256.90" y="138.05" stroke-width="3.4" stroke-opacity="0.8" fill-opacity="0.75">13</text>
<text x="142.30" y="363.45" stroke-width="3.4" stroke-opacity="0.8" fill-opacity="0.8">25</text>
<text x="142.30" y="358.05" stroke-width="3.4" stroke-opacity="0.8" fill-opacity="1">26</text>
<text x="142.90" y="342.75" stroke-width="3.4" stroke-opacity="0.8" fill-opacity="1">22</text>
<text x="70.60" y="310.25" stroke-width="3.4" stroke-opacity="0.8" fill-opacity="1">32</text>
<text x="36.90" y="251.15" stroke-width="3.4" stroke-opacity="0.8" fill-opacity="1">49</text>
<text x="209.20" y="122.75" stroke-width="3.4" stroke-opacity="0.8" fill-opacity="1">47</text>
<text x="85.00" y="128.40" stroke-width="3.4" stroke-opacity="0.8" fill-opacity="1">8</text>
<text x="101.90" y="114.90" stroke-width="3.4" stroke-opacity="0.8" fill-opacity="1">44</text>
<text x="223.50" y="140.55" stroke-width="3.4" stroke-opacity="0.8" fill-opacity="1">29</text>
<text x="109.10" y="127.75" stroke-width="3.4" stroke-opacity="0.8" fill-opacity="1">26</text>
<text x="94.00" y="142.65" stroke-width="3.4" stroke-opacity="0.8" fill-opacity="1">12</text>
<text x="249.75" y="144.25" stroke-width="3.4" stroke-opacity="0.8" fill-opacity="1">40</text>
<text x="239.40" y="153.90" stroke-width="3.4" stroke-opacity="0.8" fill-opacity="1">38</text>
<text x="228.50" y="163.05" stroke-width="3.4" stroke-opacity="0.8" fill-opacity="1">11</text>
<text x="178.90" y="131.05" stroke-width="3.4" stroke-opacity="0.8" fill-opacity="1">28</text>
<text x="151.00" y="115.90" stroke-width="3.4" stroke-opacity="0.8" fill-opacity="1">31</text>
<text x="45.60" y="199.90" stroke-width="3.4" stroke-opacity="0.8" fill-opacity="1">46</text>
<text x="245.60" y="196.75" stroke-width="3.4" stroke-opacity="0.8" fill-opacity="1">42</text>
<text x="150.00" y="130.90" stroke-width="3.4" stroke-opacity="0.8" fill-opacity="1">16</text>
<text x="59.50" y="204.25" stroke-width="3.4" stroke-opacity="0.8" fill-opacity="1">21</text>
<text x="266.90" y="154.90" stroke-width="3.4" stroke-opacity="0.8" fill-opacity="1">23</text>
<text x="264.40" y="168.05" stroke-width="3.4" stroke-opacity="0.8" fill-opacity="1">35</text>
<text x="252.50" y="174.25" stroke-width="3.4" stroke-opacity="0.8" fill-opacity="1">36</text>
<text x="240.00" y="182.40" stroke-width="3.4" stroke-opacity="0.8" fill-opacity="1">33</text>
<text x="227.25" y="189.25" stroke-width="3.4" stroke-opacity="0.8" fill-opacity="1">9</text>
<text x="214.40" y="195.55" stroke-width="3.4" stroke-opacity="0.8" fill-opacity="1">7</text>
<text x="203.75" y="205.55" stroke-width="3.4" stroke-opacity="0.8" fill-opacity="1">24</text>
<text x="202.50" y="228.95" stroke-width="3.4" stroke-opacity="0.8" fill-opacity="1">23</text>
<text x="159.75" y="266.75" stroke-width="3.4" stroke-opacity="0.8" fill-opacity="1">30</text>
</g>
<text x="151.8" y="55.8" text-anchor="middle" font-family="'Liberation Sans',sans-serif" font-weight="bold" font-size="14.3px" letter-spacing="0.13" fill="#111">Digital Only</text>
<text x="152.2" y="77.8" text-anchor="middle" font-family="'Liberation Sans',sans-serif" font-size="10.6px" letter-spacing="0.4" fill="#111">TrueNorth</text>
<text x="151.5" y="402" text-anchor="middle" font-family="'Liberation Sans',sans-serif" font-weight="bold" font-size="12px" letter-spacing="0.12" fill="#111">Search Criteria</text>
<rect x="108" y="404.7" width="87.5" height="1.1" fill="#111"/>
<text x="151.5" y="424" text-anchor="middle" font-family="'Liberation Sans',sans-serif" font-size="12px" letter-spacing="0.25" fill="#111">CURRENT+PENDING</text>
<text x="151.5" y="437" text-anchor="middle" font-family="'Liberation Sans',sans-serif" font-size="12px" letter-spacing="0.25" fill="#111">Address: exact</text>
<text x="151.5" y="449" text-anchor="middle" font-family="'Liberation Sans',sans-serif" font-size="12px" letter-spacing="0.25" fill="#111">Zipcode 20109</text>
<text x="151.5" y="461" text-anchor="middle" font-family="'Liberation Sans',sans-serif" font-size="12px" letter-spacing="0.25" fill="#111">Height: 15.0 ft.</text>
<text x="151.5" y="498" text-anchor="middle" font-family="'Liberation Sans',sans-serif" font-size="12px" letter-spacing="0.25" fill="#111">db datecode</text>
<text x="151.5" y="510" text-anchor="middle" font-family="'Liberation Sans',sans-serif" font-size="12px" letter-spacing="0.25" fill="#111">201301112215</text>
<text x="151.5" y="602" text-anchor="middle" font-family="'DejaVu Sans','Liberation Sans',sans-serif" font-size="12px" letter-spacing="0.33" fill="#1616c0">www.tvfool.com</text>
<rect x="102.2" y="603.7" width="99.6" height="1" fill="#3030d8"/>
<g transform="scale(1,0.885)" font-family="'DejaVu Sans Mono','Liberation Mono',monospace" font-size="11.2px" letter-spacing="-0.003px" xml:space="preserve" style="white-space:pre">
<text x="386.66" y="20.11" fill="#9a9a9a" font-weight="bold" stroke="#9a9a9a" stroke-width="0.7">==</text>
<text x="400.14" y="20.11" fill="#111" >Channel</text>
<text x="447.32" y="20.11" fill="#9a9a9a" font-weight="bold" stroke="#9a9a9a" stroke-width="0.7">==</text>
<text x="507.98" y="20.11" fill="#9a9a9a" font-weight="bold" stroke="#9a9a9a" stroke-width="0.7">========</text>
<text x="561.90" y="20.11" fill="#111" >Signal</text>
<text x="602.34" y="20.11" fill="#9a9a9a" font-weight="bold" stroke="#9a9a9a" stroke-width="0.7">========</text>
<text x="676.48" y="20.11" fill="#111" >Dist</text>
<text x="716.92" y="20.11" fill="#9a9a9a" font-weight="bold" stroke="#9a9a9a" stroke-width="0.7">==</text>
<text x="730.40" y="20.11" fill="#111" >Azimuth</text>
<text x="777.58" y="20.11" fill="#9a9a9a" font-weight="bold" stroke="#9a9a9a" stroke-width="0.7">==</text>
<text x="326.00" y="32.54" fill="#111" >Callsign</text>
<text x="386.66" y="32.54" fill="#111" >Real</text>
<text x="420.36" y="32.54" fill="#111" >(Virt)</text>
<text x="467.54" y="32.54" fill="#111" >Netwk</text>
<text x="514.72" y="32.54" fill="#111" >NM(dB)</text>
<text x="561.90" y="32.54" fill="#111" >Pwr(dBm)</text>
<text x="629.30" y="32.54" fill="#111" >Path</text>
<text x="669.74" y="32.54" fill="#111" >miles</text>
<text x="716.92" y="32.54" fill="#111" >True</text>
<text x="750.62" y="32.54" fill="#111" >(Magn)</text>
</g>
<rect x="326" y="30" width="465" height="1" fill="#333"/>
<rect x="323" y="32.30" width="469" height="11.22" fill="#e2ffe2"/>
<rect x="323" y="43.47" width="469" height="11.22" fill="#e2ffe2"/>
<rect x="323" y="54.64" width="469" height="11.22" fill="#e2ffe2"/>
<rect x="323" y="65.81" width="469" height="11.22" fill="#e2ffe2"/>
<rect x="323" y="76.98" width="469" height="11.22" fill="#e2ffe2"/>
<rect x="323" y="88.15" width="469" height="11.22" fill="#ffffe4"/>
<rect x="323" y="99.32" width="469" height="11.22" fill="#ffffe4"/>
<rect x="323" y="110.49" width="469" height="11.22" fill="#ffffe4"/>
<rect x="323" y="121.66" width="469" height="11.22" fill="#ffffe4"/>
<rect x="323" y="132.83" width="469" height="11.22" fill="#ffffe4"/>
<rect x="323" y="144.00" width="469" height="11.22" fill="#ffffe4"/>
<rect x="323" y="155.17" width="469" height="11.22" fill="#ffffe4"/>
<rect x="323" y="166.34" width="469" height="11.22" fill="#ffffe4"/>
<rect x="323" y="177.51" width="469" height="11.22" fill="#ffe5e4"/>
<rect x="323" y="188.68" width="469" height="11.22" fill="#ffe5e4"/>
<rect x="323" y="199.85" width="469" height="11.22" fill="#ffe5e4"/>
<rect x="323" y="211.02" width="469" height="11.22" fill="#ffe5e4"/>
<rect x="323" y="222.19" width="469" height="11.22" fill="#ffe5e4"/>
<rect x="323" y="233.36" width="469" height="11.22" fill="#ffe5e4"/>
<rect x="323" y="244.53" width="469" height="11.22" fill="#ffe5e4"/>
<rect x="323" y="255.70" width="469" height="11.22" fill="#ffe5e4"/>
<rect x="323" y="266.87" width="469" height="11.22" fill="#ffe5e4"/>
<rect x="323" y="278.04" width="469" height="11.22" fill="#ffe5e4"/>
<rect x="323" y="289.21" width="469" height="11.22" fill="#ffe5e4"/>
<rect x="323" y="300.38" width="469" height="11.22" fill="#ffe5e4"/>
<rect x="323" y="311.55" width="469" height="11.22" fill="#ffe5e4"/>
<rect x="323" y="322.72" width="469" height="11.22" fill="#ffe5e4"/>
<rect x="323" y="333.89" width="469" height="11.22" fill="#f4e6e6"/>
<rect x="323" y="345.06" width="469" height="11.22" fill="#f4e6e6"/>
<rect x="323" y="356.23" width="469" height="11.22" fill="#f4e6e6"/>
<rect x="323" y="367.40" width="469" height="11.22" fill="#e5e5e5"/>
<rect x="323" y="378.57" width="469" height="11.22" fill="#e5e5e5"/>
<rect x="323" y="389.74" width="469" height="11.22" fill="#e5e5e5"/>
<rect x="323" y="400.91" width="469" height="11.22" fill="#e5e5e5"/>
<rect x="323" y="412.08" width="469" height="11.22" fill="#e5e5e5"/>
<rect x="323" y="423.25" width="469" height="11.22" fill="#e5e5e5"/>
<rect x="323" y="434.42" width="469" height="11.22" fill="#e5e5e5"/>
<rect x="323" y="445.59" width="469" height="11.22" fill="#e5e5e5"/>
<rect x="323" y="456.76" width="469" height="11.22" fill="#e5e5e5"/>
<rect x="323" y="467.93" width="469" height="11.22" fill="#e5e5e5"/>
<rect x="323" y="479.10" width="469" height="11.22" fill="#e5e5e5"/>
<rect x="323" y="490.27" width="469" height="11.22" fill="#e5e5e5"/>
<rect x="323" y="501.44" width="469" height="11.22" fill="#e5e5e5"/>
<rect x="323" y="512.61" width="469" height="11.22" fill="#e5e5e5"/>
<rect x="323" y="523.78" width="469" height="11.22" fill="#e5e5e5"/>
<rect x="323" y="534.95" width="469" height="11.22" fill="#e5e5e5"/>
<rect x="323" y="546.12" width="469" height="11.22" fill="#e5e5e5"/>
<rect x="323" y="557.29" width="469" height="11.22" fill="#e5e5e5"/>
<rect x="323" y="568.46" width="469" height="11.22" fill="#e5e5e5"/>
<rect x="323" y="579.63" width="469" height="11.22" fill="#e5e5e5"/>
<rect x="323" y="590.80" width="469" height="11.22" fill="#e5e5e5"/>
<rect x="504" y="32.30" width="53.8" height="569.67" fill="#000" fill-opacity="0.082"/>
<rect x="323" y="42.37" width="469" height="1" fill="#000" fill-opacity="0.18"/>
<rect x="323" y="53.54" width="469" height="1" fill="#000" fill-opacity="0.18"/>
<rect x="323" y="64.71" width="469" height="1" fill="#000" fill-opacity="0.18"/>
<rect x="323" y="75.88" width="469" height="1" fill="#000" fill-opacity="0.18"/>
<rect x="323" y="87.05" width="469" height="1" fill="#000" fill-opacity="0.18"/>
<rect x="323" y="98.22" width="469" height="1" fill="#000" fill-opacity="0.18"/>
<rect x="323" y="109.39" width="469" height="1" fill="#000" fill-opacity="0.18"/>
<rect x="323" y="120.56" width="469" height="1" fill="#000" fill-opacity="0.18"/>
<rect x="323" y="131.73" width="469" height="1" fill="#000" fill-opacity="0.18"/>
<rect x="323" y="142.90" width="469" height="1" fill="#000" fill-opacity="0.18"/>
<rect x="323" y="154.07" width="469" height="1" fill="#000" fill-opacity="0.18"/>
<rect x="323" y="165.24" width="469" height="1" fill="#000" fill-opacity="0.18"/>
<rect x="323" y="176.41" width="469" height="1" fill="#000" fill-opacity="0.18"/>
<rect x="323" y="187.58" width="469" height="1" fill="#000" fill-opacity="0.18"/>
<rect x="323" y="198.75" width="469" height="1" fill="#000" fill-opacity="0.18"/>
<rect x="323" y="209.92" width="469" height="1" fill="#000" fill-opacity="0.18"/>
<rect x="323" y="221.09" width="469" height="1" fill="#000" fill-opacity="0.18"/>
<rect x="323" y="232.26" width="469" height="1" fill="#000" fill-opacity="0.18"/>
<rect x="323" y="243.43" width="469" height="1" fill="#000" fill-opacity="0.18"/>
<rect x="323" y="254.60" width="469" height="1" fill="#000" fill-opacity="0.18"/>
<rect x="323" y="265.77" width="469" height="1" fill="#000" fill-opacity="0.18"/>
<rect x="323" y="276.94" width="469" height="1" fill="#000" fill-opacity="0.18"/>
<rect x="323" y="288.11" width="469" height="1" fill="#000" fill-opacity="0.18"/>
<rect x="323" y="299.28" width="469" height="1" fill="#000" fill-opacity="0.18"/>
<rect x="323" y="310.45" width="469" height="1" fill="#000" fill-opacity="0.18"/>
<rect x="323" y="321.62" width="469" height="1" fill="#000" fill-opacity="0.18"/>
<rect x="323" y="332.79" width="469" height="1" fill="#000" fill-opacity="0.18"/>
<rect x="323" y="343.96" width="469" height="1" fill="#000" fill-opacity="0.18"/>
<rect x="323" y="355.13" width="469" height="1" fill="#000" fill-opacity="0.18"/>
<rect x="323" y="366.30" width="469" height="1" fill="#000" fill-opacity="0.18"/>
<rect x="323" y="377.47" width="469" height="1" fill="#000" fill-opacity="0.18"/>
<rect x="323" y="388.64" width="469" height="1" fill="#000" fill-opacity="0.18"/>
<rect x="323" y="399.81" width="469" height="1" fill="#000" fill-opacity="0.18"/>
<rect x="323" y="410.98" width="469" height="1" fill="#000" fill-opacity="0.18"/>
<rect x="323" y="422.15" width="469" height="1" fill="#000" fill-opacity="0.18"/>
<rect x="323" y="433.32" width="469" height="1" fill="#000" fill-opacity="0.18"/>
<rect x="323" y="444.49" width="469" height="1" fill="#000" fill-opacity="0.18"/>
<rect x="323" y="455.66" width="469" height="1" fill="#000" fill-opacity="0.18"/>
<rect x="323" y="466.83" width="469" height="1" fill="#000" fill-opacity="0.18"/>
<rect x="323" y="478.00" width="469" height="1" fill="#000" fill-opacity="0.18"/>
<rect x="323" y="489.17" width="469" height="1" fill="#000" fill-opacity="0.18"/>
<rect x="323" y="500.34" width="469" height="1" fill="#000" fill-opacity="0.18"/>
<rect x="323" y="511.51" width="469" height="1" fill="#000" fill-opacity="0.18"/>
<rect x="323" y="522.68" width="469" height="1" fill="#000" fill-opacity="0.18"/>
<rect x="323" y="533.85" width="469" height="1" fill="#000" fill-opacity="0.18"/>
<rect x="323" y="545.02" width="469" height="1" fill="#000" fill-opacity="0.18"/>
<rect x="323" y="556.19" width="469" height="1" fill="#000" fill-opacity="0.18"/>
<rect x="323" y="567.36" width="469" height="1" fill="#000" fill-opacity="0.18"/>
<rect x="323" y="578.53" width="469" height="1" fill="#000" fill-opacity="0.18"/>
<rect x="323" y="589.70" width="469" height="1" fill="#000" fill-opacity="0.18"/>
<rect x="306" y="188.68" width="7" height="11.17" fill="#ff8c8c"/>
<rect x="313" y="188.68" width="7" height="11.17" fill="#c40000"/>
<rect x="313" y="199.85" width="7" height="11.17" fill="#c40000"/>
<rect x="306" y="222.19" width="7" height="11.17" fill="#ff8c8c"/>
<rect x="313" y="222.19" width="7" height="11.17" fill="#c40000"/>
<rect x="313" y="233.36" width="7" height="11.17" fill="#c40000"/>
<rect x="313" y="244.53" width="7" height="11.17" fill="#c40000"/>
<rect x="306" y="255.70" width="7" height="11.17" fill="#ff8c8c"/>
<rect x="313" y="266.87" width="7" height="11.17" fill="#c40000"/>
<rect x="313" y="289.21" width="7" height="11.17" fill="#c40000"/>
<rect x="306" y="300.38" width="7" height="11.17" fill="#ff8c8c"/>
<rect x="313" y="300.38" width="7" height="11.17" fill="#c40000"/>
<rect x="313" y="311.55" width="7" height="11.17" fill="#c40000"/>
<rect x="306" y="322.72" width="7" height="11.17" fill="#ff8c8c"/>
<rect x="313" y="322.72" width="7" height="11.17" fill="#c40000"/>
<rect x="313" y="333.89" width="7" height="11.17" fill="#c40000"/>
<rect x="313" y="345.06" width="7" height="11.17" fill="#c40000"/>
<rect x="313" y="356.23" width="7" height="11.17" fill="#c40000"/>
<rect x="306" y="367.40" width="7" height="11.17" fill="#ff8c8c"/>
<rect x="313" y="367.40" width="7" height="11.17" fill="#c40000"/>
<rect x="313" y="378.57" width="7" height="11.17" fill="#c40000"/>
<rect x="313" y="389.74" width="7" height="11.17" fill="#c40000"/>
<rect x="306" y="400.91" width="7" height="11.17" fill="#ff8c8c"/>
<rect x="313" y="400.91" width="7" height="11.17" fill="#c40000"/>
<rect x="306" y="412.08" width="7" height="11.17" fill="#ff8c8c"/>
<rect x="313" y="412.08" width="7" height="11.17" fill="#c40000"/>
<rect x="313" y="423.25" width="7" height="11.17" fill="#c40000"/>
<rect x="313" y="434.42" width="7" height="11.17" fill="#c40000"/>
<rect x="306" y="445.59" width="7" height="11.17" fill="#ff8c8c"/>
<rect x="313" y="445.59" width="7" height="11.17" fill="#c40000"/>
<rect x="306" y="456.76" width="7" height="11.17" fill="#ff8c8c"/>
<rect x="313" y="456.76" width="7" height="11.17" fill="#c40000"/>
<rect x="306" y="467.93" width="7" height="11.17" fill="#ff8c8c"/>
<rect x="313" y="467.93" width="7" height="11.17" fill="#c40000"/>
<rect x="306" y="479.10" width="7" height="11.17" fill="#ff8c8c"/>
<rect x="313" y="479.10" width="7" height="11.17" fill="#c40000"/>
<rect x="306" y="490.27" width="7" height="11.17" fill="#ff8c8c"/>
<rect x="313" y="490.27" width="7" height="11.17" fill="#c40000"/>
<rect x="306" y="501.44" width="7" height="11.17" fill="#ff8c8c"/>
<rect x="313" y="501.44" width="7" height="11.17" fill="#c40000"/>
<rect x="306" y="512.61" width="7" height="11.17" fill="#ff8c8c"/>
<rect x="313" y="512.61" width="7" height="11.17" fill="#c40000"/>
<rect x="313" y="523.78" width="7" height="11.17" fill="#c40000"/>
<rect x="313" y="534.95" width="7" height="11.17" fill="#c40000"/>
<rect x="313" y="546.12" width="7" height="11.17" fill="#c40000"/>
<rect x="306" y="557.29" width="7" height="11.17" fill="#ff8c8c"/>
<rect x="313" y="557.29" width="7" height="11.17" fill="#c40000"/>
<rect x="313" y="568.46" width="7" height="11.17" fill="#c40000"/>
<rect x="313" y="579.63" width="7" height="11.17" fill="#c40000"/>
<rect x="313" y="590.80" width="7" height="11.17" fill="#c40000"/>
<g transform="scale(1,0.885)" font-family="'DejaVu Sans Mono','Liberation Mono',monospace" font-size="11.2px" letter-spacing="-0.003px" xml:space="preserve" style="white-space:pre">
<text x="326.00" y="46.72" fill="#0f5fdc" >WNVT-DT</text>
<text x="400.14" y="46.72" fill="#0f5fdc" >30</text>
<text x="420.36" y="46.72" fill="#0f5fdc" >(30.1)</text>
<text x="474.28" y="46.72" fill="#0f5fdc" >Ind</text>
<text x="521.46" y="46.72" fill="#0f5fdc" >56.7</text>
<text x="575.38" y="46.72" fill="#0f5fdc" >-34.2</text>
<text x="629.30" y="46.72" fill="#0f5fdc" >LOS</text>
<text x="676.48" y="46.72" fill="#0f5fdc" >11.5</text>
<text x="716.92" y="46.72" fill="#2496b0" >169°</text>
<text x="750.62" y="46.72" fill="#2496b0" >(179°)</text>
<text x="326.00" y="59.34" fill="#0f5fdc" >WDWA-LP</text>
<text x="400.14" y="59.34" fill="#0f5fdc" >23</text>
<text x="420.36" y="59.34" fill="#0f5fdc" >(23.1)</text>
<text x="521.46" y="59.34" fill="#0f5fdc" >46.6</text>
<text x="575.38" y="59.34" fill="#0f5fdc" >-44.3</text>
<text x="629.30" y="59.34" fill="#0f5fdc" >LOS</text>
<text x="683.22" y="59.34" fill="#0f5fdc" >8.1</text>
<text x="723.66" y="59.34" fill="#769e24" >92°</text>
<text x="750.62" y="59.34" fill="#769e24" >(103°)</text>
<text x="326.00" y="71.97" fill="#0f5fdc" >WNVC-DT</text>
<text x="400.14" y="71.97" fill="#0f5fdc" >24</text>
<text x="420.36" y="71.97" fill="#0f5fdc" >(30.1)</text>
<text x="474.28" y="71.97" fill="#0f5fdc" >Ind</text>
<text x="521.46" y="71.97" fill="#0f5fdc" >41.7</text>
<text x="575.38" y="71.97" fill="#0f5fdc" >-49.2</text>
<text x="622.56" y="71.97" fill="#0f5fdc" >1Edge</text>
<text x="676.48" y="71.97" fill="#0f5fdc" >15.0</text>
<text x="723.66" y="71.97" fill="#bd9a28" >68°</text>
<text x="757.36" y="71.97" fill="#bd9a28" >(78°)</text>
<text x="326.00" y="84.59" fill="#0f5fdc" >WJLA-TV</text>
<text x="406.88" y="84.59" fill="#0f5fdc" >7</text>
<text x="427.10" y="84.59" fill="#0f5fdc" >(7.1)</text>
<text x="474.28" y="84.59" fill="#0f5fdc" >ABC</text>
<text x="521.46" y="84.59" fill="#0f5fdc" >38.0</text>
<text x="575.38" y="84.59" fill="#0f5fdc" >-52.9</text>
<text x="622.56" y="84.59" fill="#0f5fdc" >2Edge</text>
<text x="676.48" y="84.59" fill="#0f5fdc" >24.2</text>
<text x="723.66" y="84.59" fill="#c29628" >63°</text>
<text x="757.36" y="84.59" fill="#c29628" >(74°)</text>
<text x="326.00" y="97.21" fill="#0f5fdc" >WUSA</text>
<text x="406.88" y="97.21" fill="#0f5fdc" >9</text>
<text x="474.28" y="97.21" fill="#0f5fdc" >CBS</text>
<text x="521.46" y="97.21" fill="#0f5fdc" >37.2</text>
<text x="575.38" y="97.21" fill="#0f5fdc" >-53.6</text>
<text x="622.56" y="97.21" fill="#0f5fdc" >2Edge</text>
<text x="676.48" y="97.21" fill="#0f5fdc" >24.2</text>
<text x="723.66" y="97.21" fill="#c29628" >63°</text>
<text x="757.36" y="97.21" fill="#c29628" >(74°)</text>
<text x="326.00" y="109.83" fill="#0f5fdc" >WHUT-TV</text>
<text x="400.14" y="109.83" fill="#0f5fdc" >33</text>
<text x="420.36" y="109.83" fill="#0f5fdc" >(32.1)</text>
<text x="474.28" y="109.83" fill="#0f5fdc" >PBS</text>
<text x="521.46" y="109.83" fill="#0f5fdc" >33.5</text>
<text x="575.38" y="109.83" fill="#0f5fdc" >-57.4</text>
<text x="622.56" y="109.83" fill="#0f5fdc" >2Edge</text>
<text x="676.48" y="109.83" fill="#0f5fdc" >24.2</text>
<text x="723.66" y="109.83" fill="#c29628" >63°</text>
<text x="757.36" y="109.83" fill="#c29628" >(74°)</text>
<text x="326.00" y="122.45" fill="#0f5fdc" >WTTG</text>
<text x="400.14" y="122.45" fill="#0f5fdc" >36</text>
<text x="427.10" y="122.45" fill="#0f5fdc" >(5.1)</text>
<text x="474.28" y="122.45" fill="#0f5fdc" >Fox</text>
<text x="521.46" y="122.45" fill="#0f5fdc" >30.7</text>
<text x="575.38" y="122.45" fill="#0f5fdc" >-60.1</text>
<text x="622.56" y="122.45" fill="#0f5fdc" >2Edge</text>
<text x="676.48" y="122.45" fill="#0f5fdc" >24.2</text>
<text x="723.66" y="122.45" fill="#c39528" >62°</text>
<text x="757.36" y="122.45" fill="#c39528" >(73°)</text>
<text x="326.00" y="135.07" fill="#0f5fdc" >WDCA</text>
<text x="400.14" y="135.07" fill="#0f5fdc" >35</text>
<text x="474.28" y="135.07" fill="#0f5fdc" >MyN</text>
<text x="521.46" y="135.07" fill="#0f5fdc" >30.7</text>
<text x="575.38" y="135.07" fill="#0f5fdc" >-60.1</text>
<text x="622.56" y="135.07" fill="#0f5fdc" >2Edge</text>
<text x="676.48" y="135.07" fill="#0f5fdc" >24.2</text>
<text x="723.66" y="135.07" fill="#c39528" >62°</text>
<text x="757.36" y="135.07" fill="#c39528" >(73°)</text>
<text x="326.00" y="147.69" fill="#0f5fdc" >WPXW-DT</text>
<text x="400.14" y="147.69" fill="#0f5fdc" >34</text>
<text x="420.36" y="147.69" fill="#0f5fdc" >(66.1)</text>
<text x="474.28" y="147.69" fill="#0f5fdc" >ION</text>
<text x="521.46" y="147.69" fill="#0f5fdc" >29.9</text>
<text x="575.38" y="147.69" fill="#0f5fdc" >-61.0</text>
<text x="622.56" y="147.69" fill="#0f5fdc" >2Edge</text>
<text x="676.48" y="147.69" fill="#0f5fdc" >24.2</text>
<text x="723.66" y="147.69" fill="#c29628" >63°</text>
<text x="757.36" y="147.69" fill="#c29628" >(74°)</text>
<text x="326.00" y="160.32" fill="#0f5fdc" >WFDC-DT</text>
<text x="400.14" y="160.32" fill="#0f5fdc" >15</text>
<text x="474.28" y="160.32" fill="#0f5fdc" >Uni</text>
<text x="521.46" y="160.32" fill="#0f5fdc" >29.3</text>
<text x="575.38" y="160.32" fill="#0f5fdc" >-61.5</text>
<text x="622.56" y="160.32" fill="#0f5fdc" >2Edge</text>
<text x="676.48" y="160.32" fill="#0f5fdc" >23.8</text>
<text x="723.66" y="160.32" fill="#c09828" >65°</text>
<text x="757.36" y="160.32" fill="#c09828" >(75°)</text>
<text x="326.00" y="172.94" fill="#0f5fdc" >WRC-DT</text>
<text x="400.14" y="172.94" fill="#0f5fdc" >48</text>
<text x="427.10" y="172.94" fill="#0f5fdc" >(4.1)</text>
<text x="474.28" y="172.94" fill="#0f5fdc" >NBC</text>
<text x="521.46" y="172.94" fill="#0f5fdc" >29.1</text>
<text x="575.38" y="172.94" fill="#0f5fdc" >-61.7</text>
<text x="622.56" y="172.94" fill="#0f5fdc" >2Edge</text>
<text x="676.48" y="172.94" fill="#0f5fdc" >23.8</text>
<text x="723.66" y="172.94" fill="#c09828" >65°</text>
<text x="757.36" y="172.94" fill="#c09828" >(75°)</text>
<text x="326.00" y="185.56" fill="#0f5fdc" >WDCW</text>
<text x="400.14" y="185.56" fill="#0f5fdc" >50</text>
<text x="420.36" y="185.56" fill="#0f5fdc" >(50.1)</text>
<text x="481.02" y="185.56" fill="#0f5fdc" >CW</text>
<text x="521.46" y="185.56" fill="#0f5fdc" >25.0</text>
<text x="575.38" y="185.56" fill="#0f5fdc" >-65.9</text>
<text x="622.56" y="185.56" fill="#0f5fdc" >2Edge</text>
<text x="676.48" y="185.56" fill="#0f5fdc" >27.1</text>
<text x="723.66" y="185.56" fill="#c19728" >64°</text>
<text x="757.36" y="185.56" fill="#c19728" >(75°)</text>
<text x="326.00" y="198.18" fill="#0f5fdc" >WETA-TV</text>
<text x="400.14" y="198.18" fill="#0f5fdc" >27</text>
<text x="474.28" y="198.18" fill="#0f5fdc" >PBS</text>
<text x="521.46" y="198.18" fill="#0f5fdc" >23.2</text>
<text x="575.38" y="198.18" fill="#0f5fdc" >-67.7</text>
<text x="622.56" y="198.18" fill="#0f5fdc" >2Edge</text>
<text x="676.48" y="198.18" fill="#0f5fdc" >24.2</text>
<text x="723.66" y="198.18" fill="#c29628" >63°</text>
<text x="757.36" y="198.18" fill="#c29628" >(74°)</text>
<text x="326.00" y="210.80" fill="#0f5fdc" >WWTD-LD</text>
<text x="400.14" y="210.80" fill="#0f5fdc" >14</text>
<text x="521.46" y="210.80" fill="#0f5fdc" >13.8</text>
<text x="575.38" y="210.80" fill="#0f5fdc" >-77.1</text>
<text x="622.56" y="210.80" fill="#0f5fdc" >2Edge</text>
<text x="676.48" y="210.80" fill="#0f5fdc" >23.8</text>
<text x="723.66" y="210.80" fill="#c09828" >65°</text>
<text x="757.36" y="210.80" fill="#c09828" >(75°)</text>
<text x="305.78" y="223.42" fill="#fff" >a</text>
<text x="312.52" y="223.42" fill="#fff" >C</text>
<text x="326.00" y="223.42" fill="#0f5fdc" >WDDN-LD</text>
<text x="400.14" y="223.42" fill="#0f5fdc" >23</text>
<text x="420.36" y="223.42" fill="#0f5fdc" >(23.1)</text>
<text x="521.46" y="223.42" fill="#0f5fdc" >11.0</text>
<text x="575.38" y="223.42" fill="#0f5fdc" >-79.8</text>
<text x="622.56" y="223.42" fill="#0f5fdc" >1Edge</text>
<text x="676.48" y="223.42" fill="#0f5fdc" >26.9</text>
<text x="723.66" y="223.42" fill="#c89228" >58°</text>
<text x="757.36" y="223.42" fill="#c89228" >(68°)</text>
<text x="312.52" y="236.05" fill="#fff" >C</text>
<text x="326.00" y="236.05" fill="#0f5fdc" >WWTD-LP</text>
<text x="400.14" y="236.05" fill="#0f5fdc" >49</text>
<text x="420.36" y="236.05" fill="#0f5fdc" >(49.1)</text>
<text x="528.20" y="236.05" fill="#0f5fdc" >6.1</text>
<text x="575.38" y="236.05" fill="#0f5fdc" >-84.7</text>
<text x="622.56" y="236.05" fill="#0f5fdc" >2Edge</text>
<text x="676.48" y="236.05" fill="#0f5fdc" >23.8</text>
<text x="723.66" y="236.05" fill="#c09828" >65°</text>
<text x="757.36" y="236.05" fill="#c09828" >(75°)</text>
<text x="326.00" y="248.67" fill="#0f5fdc" >WVPY</text>
<text x="400.14" y="248.67" fill="#0f5fdc" >21</text>
<text x="474.28" y="248.67" fill="#0f5fdc" >PBS</text>
<text x="528.20" y="248.67" fill="#0f5fdc" >3.6</text>
<text x="575.38" y="248.67" fill="#0f5fdc" >-87.3</text>
<text x="622.56" y="248.67" fill="#0f5fdc" >1Edge</text>
<text x="676.48" y="248.67" fill="#0f5fdc" >47.3</text>
<text x="716.92" y="248.67" fill="#961eb4" >284°</text>
<text x="750.62" y="248.67" fill="#961eb4" >(295°)</text>
<text x="305.78" y="261.29" fill="#fff" >a</text>
<text x="312.52" y="261.29" fill="#fff" >C</text>
<text x="326.00" y="261.29" fill="#0f5fdc" >W22DA</text>
<text x="400.14" y="261.29" fill="#0f5fdc" >16</text>
<text x="420.36" y="261.29" fill="#0f5fdc" >(22.1)</text>
<text x="528.20" y="261.29" fill="#0f5fdc" >2.1</text>
<text x="575.38" y="261.29" fill="#0f5fdc" >-88.8</text>
<text x="622.56" y="261.29" fill="#0f5fdc" >1Edge</text>
<text x="676.48" y="261.29" fill="#0f5fdc" >48.2</text>
<text x="716.92" y="261.29" fill="#cc181b" >359°</text>
<text x="764.10" y="261.29" fill="#cc181b" >(9°)</text>
<text x="312.52" y="273.91" fill="#fff" >C</text>
<text x="326.00" y="273.91" fill="#0f5fdc" >WMPT</text>
<text x="400.14" y="273.91" fill="#0f5fdc" >42</text>
<text x="420.36" y="273.91" fill="#0f5fdc" >(22.1)</text>
<text x="474.28" y="273.91" fill="#0f5fdc" >PBS</text>
<text x="528.20" y="273.91" fill="#0f5fdc" >0.6</text>
<text x="575.38" y="273.91" fill="#0f5fdc" >-90.2</text>
<text x="622.56" y="273.91" fill="#0f5fdc" >2Edge</text>
<text x="676.48" y="273.91" fill="#0f5fdc" >49.3</text>
<text x="723.66" y="273.91" fill="#b89c28" >72°</text>
<text x="757.36" y="273.91" fill="#b89c28" >(82°)</text>
<text x="312.52" y="286.53" fill="#fff" >C</text>
<text x="326.00" y="286.53" fill="#0f5fdc" >WWPX-TV</text>
<text x="400.14" y="286.53" fill="#0f5fdc" >12</text>
<text x="474.28" y="286.53" fill="#0f5fdc" >ION</text>
<text x="528.20" y="286.53" fill="#0f5fdc" >0.3</text>
<text x="575.38" y="286.53" fill="#0f5fdc" >-90.6</text>
<text x="622.56" y="286.53" fill="#0f5fdc" >2Edge</text>
<text x="676.48" y="286.53" fill="#0f5fdc" >24.2</text>
<text x="723.66" y="286.53" fill="#c29628" >63°</text>
<text x="757.36" y="286.53" fill="#c29628" >(74°)</text>
<text x="305.78" y="299.15" fill="#fff" >a</text>
<text x="326.00" y="299.15" fill="#0f5fdc" >WFPT-DT</text>
<text x="400.14" y="299.15" fill="#0f5fdc" >28</text>
<text x="420.36" y="299.15" fill="#0f5fdc" >(62.1)</text>
<text x="474.28" y="299.15" fill="#0f5fdc" >PBS</text>
<text x="521.46" y="299.15" fill="#0f5fdc" >-1.1</text>
<text x="575.38" y="299.15" fill="#0f5fdc" >-91.9</text>
<text x="622.56" y="299.15" fill="#0f5fdc" >2Edge</text>
<text x="676.48" y="299.15" fill="#0f5fdc" >33.5</text>
<text x="723.66" y="299.15" fill="#d4301c" >16°</text>
<text x="757.36" y="299.15" fill="#d4301c" >(26°)</text>
<text x="312.52" y="311.77" fill="#fff" >C</text>
<text x="326.00" y="311.77" fill="#0f5fdc" >WBAL-TV</text>
<text x="400.14" y="311.77" fill="#0f5fdc" >11</text>
<text x="420.36" y="311.77" fill="#0f5fdc" >(11.1)</text>
<text x="474.28" y="311.77" fill="#0f5fdc" >NBC</text>
<text x="521.46" y="311.77" fill="#0f5fdc" >-1.1</text>
<text x="575.38" y="311.77" fill="#0f5fdc" >-92.0</text>
<text x="622.56" y="311.77" fill="#0f5fdc" >2Edge</text>
<text x="676.48" y="311.77" fill="#0f5fdc" >58.2</text>
<text x="723.66" y="311.77" fill="#ca8a24" >50°</text>
<text x="757.36" y="311.77" fill="#ca8a24" >(60°)</text>
<text x="326.00" y="324.40" fill="#0f5fdc" >WMAR-TV</text>
<text x="400.14" y="324.40" fill="#0f5fdc" >38</text>
<text x="427.10" y="324.40" fill="#0f5fdc" >(2.1)</text>
<text x="474.28" y="324.40" fill="#0f5fdc" >ABC</text>
<text x="521.46" y="324.40" fill="#0f5fdc" >-1.4</text>
<text x="575.38" y="324.40" fill="#0f5fdc" >-92.2</text>
<text x="622.56" y="324.40" fill="#0f5fdc" >2Edge</text>
<text x="676.48" y="324.40" fill="#0f5fdc" >58.2</text>
<text x="723.66" y="324.40" fill="#ca8a24" >50°</text>
<text x="757.36" y="324.40" fill="#ca8a24" >(60°)</text>
<text x="312.52" y="337.02" fill="#fff" >C</text>
<text x="326.00" y="337.02" fill="#0f5fdc" >WAZW-LD</text>
<text x="400.14" y="337.02" fill="#0f5fdc" >46</text>
<text x="521.46" y="337.02" fill="#0f5fdc" >-2.4</text>
<text x="575.38" y="337.02" fill="#0f5fdc" >-93.2</text>
<text x="622.56" y="337.02" fill="#0f5fdc" >1Edge</text>
<text x="676.48" y="337.02" fill="#0f5fdc" >47.3</text>
<text x="716.92" y="337.02" fill="#961eb4" >284°</text>
<text x="750.62" y="337.02" fill="#961eb4" >(295°)</text>
<text x="305.78" y="349.64" fill="#fff" >a</text>
<text x="312.52" y="349.64" fill="#fff" >C</text>
<text x="326.00" y="349.64" fill="#0f5fdc" >WETA-TV</text>
<text x="400.14" y="349.64" fill="#0f5fdc" >31</text>
<text x="474.28" y="349.64" fill="#0f5fdc" >PBS</text>
<text x="521.46" y="349.64" fill="#0f5fdc" >-2.6</text>
<text x="575.38" y="349.64" fill="#0f5fdc" >-93.5</text>
<text x="622.56" y="349.64" fill="#0f5fdc" >1Edge</text>
<text x="676.48" y="349.64" fill="#0f5fdc" >25.2</text>
<text x="716.92" y="349.64" fill="#cc181b" >359°</text>
<text x="757.36" y="349.64" fill="#cc181b" >(10°)</text>
<text x="312.52" y="362.26" fill="#fff" >C</text>
<text x="326.00" y="362.26" fill="#0f5fdc" >WNUV-DT</text>
<text x="400.14" y="362.26" fill="#0f5fdc" >40</text>
<text x="420.36" y="362.26" fill="#0f5fdc" >(54.1)</text>
<text x="481.02" y="362.26" fill="#0f5fdc" >CW</text>
<text x="521.46" y="362.26" fill="#0f5fdc" >-3.0</text>
<text x="575.38" y="362.26" fill="#0f5fdc" >-93.9</text>
<text x="622.56" y="362.26" fill="#0f5fdc" >2Edge</text>
<text x="676.48" y="362.26" fill="#0f5fdc" >58.3</text>
<text x="723.66" y="362.26" fill="#ca8a24" >50°</text>
<text x="757.36" y="362.26" fill="#ca8a24" >(60°)</text>
<text x="305.78" y="374.88" fill="#fff" >a</text>
<text x="312.52" y="374.88" fill="#fff" >C</text>
<text x="326.00" y="374.88" fill="#0f5fdc" >WMDO-LD</text>
<text x="400.14" y="374.88" fill="#0f5fdc" >22</text>
<text x="521.46" y="374.88" fill="#0f5fdc" >-3.1</text>
<text x="575.38" y="374.88" fill="#0f5fdc" >-94.0</text>
<text x="622.56" y="374.88" fill="#0f5fdc" >2Edge</text>
<text x="676.48" y="374.88" fill="#0f5fdc" >23.8</text>
<text x="723.66" y="374.88" fill="#c09828" >65°</text>
<text x="757.36" y="374.88" fill="#c09828" >(75°)</text>
<text x="312.52" y="387.50" fill="#fff" >C</text>
<text x="326.00" y="387.50" fill="#0f5fdc" >WWPX-DT</text>
<text x="400.14" y="387.50" fill="#0f5fdc" >12</text>
<text x="420.36" y="387.50" fill="#0f5fdc" >(60.1)</text>
<text x="474.28" y="387.50" fill="#0f5fdc" >ION</text>
<text x="521.46" y="387.50" fill="#0f5fdc" >-3.5</text>
<text x="575.38" y="387.50" fill="#0f5fdc" >-94.3</text>
<text x="622.56" y="387.50" fill="#0f5fdc" >2Edge</text>
<text x="676.48" y="387.50" fill="#0f5fdc" >55.6</text>
<text x="716.92" y="387.50" fill="#c81e70" >326°</text>
<text x="750.62" y="387.50" fill="#c81e70" >(336°)</text>
<text x="312.52" y="400.12" fill="#fff" >C</text>
<text x="326.00" y="400.12" fill="#0f5fdc" >WJZ-TV</text>
<text x="400.14" y="400.12" fill="#0f5fdc" >13</text>
<text x="420.36" y="400.12" fill="#0f5fdc" >(13.1)</text>
<text x="474.28" y="400.12" fill="#0f5fdc" >CBS</text>
<text x="521.46" y="400.12" fill="#0f5fdc" >-4.6</text>
<text x="575.38" y="400.12" fill="#0f5fdc" >-95.5</text>
<text x="622.56" y="400.12" fill="#0f5fdc" >2Edge</text>
<text x="676.48" y="400.12" fill="#0f5fdc" >58.2</text>
<text x="723.66" y="400.12" fill="#ca8a24" >50°</text>
<text x="757.36" y="400.12" fill="#ca8a24" >(60°)</text>
<text x="312.52" y="412.75" fill="#fff" >C</text>
<text x="326.00" y="412.75" fill="#0f5fdc" >WBFF</text>
<text x="400.14" y="412.75" fill="#0f5fdc" >46</text>
<text x="420.36" y="412.75" fill="#0f5fdc" >(45.1)</text>
<text x="474.28" y="412.75" fill="#0f5fdc" >Fox</text>
<text x="521.46" y="412.75" fill="#0f5fdc" >-5.1</text>
<text x="575.38" y="412.75" fill="#0f5fdc" >-96.0</text>
<text x="622.56" y="412.75" fill="#0f5fdc" >2Edge</text>
<text x="676.48" y="412.75" fill="#0f5fdc" >58.3</text>
<text x="723.66" y="412.75" fill="#ca8a24" >50°</text>
<text x="757.36" y="412.75" fill="#ca8a24" >(60°)</text>
<text x="305.78" y="425.37" fill="#fff" >a</text>
<text x="312.52" y="425.37" fill="#fff" >C</text>
<text x="326.00" y="425.37" fill="#0f5fdc" >WHAG-DT</text>
<text x="400.14" y="425.37" fill="#0f5fdc" >26</text>
<text x="420.36" y="425.37" fill="#0f5fdc" >(25.1)</text>
<text x="474.28" y="425.37" fill="#0f5fdc" >NBC</text>
<text x="521.46" y="425.37" fill="#0f5fdc" >-9.0</text>
<text x="575.38" y="425.37" fill="#0f5fdc" >-99.9</text>
<text x="622.56" y="425.37" fill="#0f5fdc" >2Edge</text>
<text x="676.48" y="425.37" fill="#0f5fdc" >65.4</text>
<text x="716.92" y="425.37" fill="#c81e58" >337°</text>
<text x="750.62" y="425.37" fill="#c81e58" >(347°)</text>
<text x="312.52" y="437.99" fill="#fff" >C</text>
<text x="326.00" y="437.99" fill="#0f5fdc" >WMJF-LP</text>
<text x="400.14" y="437.99" fill="#0f5fdc" >19</text>
<text x="420.36" y="437.99" fill="#0f5fdc" >(16.1)</text>
<text x="514.72" y="437.99" fill="#0f5fdc" >-11.0</text>
<text x="568.64" y="437.99" fill="#0f5fdc" >-101.9</text>
<text x="622.56" y="437.99" fill="#0f5fdc" >2Edge</text>
<text x="676.48" y="437.99" fill="#0f5fdc" >51.6</text>
<text x="723.66" y="437.99" fill="#cc8623" >48°</text>
<text x="757.36" y="437.99" fill="#cc8623" >(59°)</text>
<text x="312.52" y="450.61" fill="#fff" >C</text>
<text x="326.00" y="450.61" fill="#0f5fdc" >WUTB</text>
<text x="400.14" y="450.61" fill="#0f5fdc" >41</text>
<text x="420.36" y="450.61" fill="#0f5fdc" >(24.1)</text>
<text x="474.28" y="450.61" fill="#0f5fdc" >MyN</text>
<text x="514.72" y="450.61" fill="#0f5fdc" >-11.1</text>
<text x="568.64" y="450.61" fill="#0f5fdc" >-102.0</text>
<text x="622.56" y="450.61" fill="#0f5fdc" >2Edge</text>
<text x="676.48" y="450.61" fill="#0f5fdc" >51.6</text>
<text x="723.66" y="450.61" fill="#cc8623" >48°</text>
<text x="757.36" y="450.61" fill="#cc8623" >(59°)</text>
<text x="305.78" y="463.23" fill="#fff" >a</text>
<text x="312.52" y="463.23" fill="#fff" >C</text>
<text x="326.00" y="463.23" fill="#0f5fdc" >WMPB-DT</text>
<text x="400.14" y="463.23" fill="#0f5fdc" >29</text>
<text x="420.36" y="463.23" fill="#0f5fdc" >(67.1)</text>
<text x="474.28" y="463.23" fill="#0f5fdc" >PBS</text>
<text x="514.72" y="463.23" fill="#0f5fdc" >-12.8</text>
<text x="568.64" y="463.23" fill="#0f5fdc" >-103.7</text>
<text x="622.56" y="463.23" fill="#0f5fdc" >2Edge</text>
<text x="676.48" y="463.23" fill="#0f5fdc" >58.8</text>
<text x="723.66" y="463.23" fill="#d2781e" >40°</text>
<text x="757.36" y="463.23" fill="#d2781e" >(50°)</text>
<text x="305.78" y="475.85" fill="#fff" >a</text>
<text x="312.52" y="475.85" fill="#fff" >C</text>
<text x="326.00" y="475.85" fill="#0f5fdc" >WZDC-CD</text>
<text x="400.14" y="475.85" fill="#0f5fdc" >25</text>
<text x="514.72" y="475.85" fill="#0f5fdc" >-15.3</text>
<text x="568.64" y="475.85" fill="#0f5fdc" >-106.1</text>
<text x="622.56" y="475.85" fill="#0f5fdc" >2Edge</text>
<text x="676.48" y="475.85" fill="#0f5fdc" >23.8</text>
<text x="723.66" y="475.85" fill="#c09828" >65°</text>
<text x="757.36" y="475.85" fill="#c09828" >(75°)</text>
<text x="312.52" y="488.47" fill="#fff" >C</text>
<text x="326.00" y="488.47" fill="#0f5fdc" >WWPB</text>
<text x="400.14" y="488.47" fill="#0f5fdc" >44</text>
<text x="420.36" y="488.47" fill="#0f5fdc" >(31.1)</text>
<text x="474.28" y="488.47" fill="#0f5fdc" >PBS</text>
<text x="514.72" y="488.47" fill="#0f5fdc" >-15.6</text>
<text x="568.64" y="488.47" fill="#0f5fdc" >-106.5</text>
<text x="622.56" y="488.47" fill="#0f5fdc" >2Edge</text>
<text x="676.48" y="488.47" fill="#0f5fdc" >64.8</text>
<text x="716.92" y="488.47" fill="#c81e5a" >336°</text>
<text x="750.62" y="488.47" fill="#c81e5a" >(347°)</text>
<text x="312.52" y="501.10" fill="#fff" >C</text>
<text x="326.00" y="501.10" fill="#0f5fdc" >WIAV-LP</text>
<text x="400.14" y="501.10" fill="#0f5fdc" >44</text>
<text x="427.10" y="501.10" fill="#0f5fdc" >(4.1)</text>
<text x="514.72" y="501.10" fill="#0f5fdc" >-16.4</text>
<text x="568.64" y="501.10" fill="#0f5fdc" >-107.2</text>
<text x="622.56" y="501.10" fill="#0f5fdc" >2Edge</text>
<text x="676.48" y="501.10" fill="#0f5fdc" >23.8</text>
<text x="723.66" y="501.10" fill="#c09828" >65°</text>
<text x="757.36" y="501.10" fill="#c09828" >(75°)</text>
<text x="305.78" y="513.72" fill="#fff" >a</text>
<text x="312.52" y="513.72" fill="#fff" >C</text>
<text x="326.00" y="513.72" fill="#0f5fdc" >WRIC-DT</text>
<text x="400.14" y="513.72" fill="#0f5fdc" >22</text>
<text x="427.10" y="513.72" fill="#0f5fdc" >(8.1)</text>
<text x="474.28" y="513.72" fill="#0f5fdc" >ABC</text>
<text x="514.72" y="513.72" fill="#0f5fdc" >-16.7</text>
<text x="568.64" y="513.72" fill="#0f5fdc" >-107.5</text>
<text x="622.56" y="513.72" fill="#0f5fdc" >Tropo</text>
<text x="676.48" y="513.72" fill="#0f5fdc" >88.5</text>
<text x="716.92" y="513.72" fill="#1e96a0" >184°</text>
<text x="750.62" y="513.72" fill="#1e96a0" >(195°)</text>
<text x="305.78" y="526.34" fill="#fff" >a</text>
<text x="312.52" y="526.34" fill="#fff" >C</text>
<text x="326.00" y="526.34" fill="#0f5fdc" >WVIR-DT</text>
<text x="400.14" y="526.34" fill="#0f5fdc" >32</text>
<text x="420.36" y="526.34" fill="#0f5fdc" >(29.1)</text>
<text x="474.28" y="526.34" fill="#0f5fdc" >NBC</text>
<text x="514.72" y="526.34" fill="#0f5fdc" >-16.7</text>
<text x="568.64" y="526.34" fill="#0f5fdc" >-107.6</text>
<text x="622.56" y="526.34" fill="#0f5fdc" >Tropo</text>
<text x="676.48" y="526.34" fill="#0f5fdc" >77.9</text>
<text x="716.92" y="526.34" fill="#282cb4" >225°</text>
<text x="750.62" y="526.34" fill="#282cb4" >(235°)</text>
<text x="305.78" y="538.96" fill="#fff" >a</text>
<text x="312.52" y="538.96" fill="#fff" >C</text>
<text x="326.00" y="538.96" fill="#0f5fdc" >WRLH-DT</text>
<text x="400.14" y="538.96" fill="#0f5fdc" >26</text>
<text x="420.36" y="538.96" fill="#0f5fdc" >(35.1)</text>
<text x="474.28" y="538.96" fill="#0f5fdc" >Fox</text>
<text x="514.72" y="538.96" fill="#0f5fdc" >-17.4</text>
<text x="568.64" y="538.96" fill="#0f5fdc" >-108.3</text>
<text x="622.56" y="538.96" fill="#0f5fdc" >Tropo</text>
<text x="676.48" y="538.96" fill="#0f5fdc" >88.5</text>
<text x="716.92" y="538.96" fill="#1e96a0" >184°</text>
<text x="750.62" y="538.96" fill="#1e96a0" >(195°)</text>
<text x="305.78" y="551.58" fill="#fff" >a</text>
<text x="312.52" y="551.58" fill="#fff" >C</text>
<text x="326.00" y="551.58" fill="#0f5fdc" >WHSV-DT</text>
<text x="400.14" y="551.58" fill="#0f5fdc" >49</text>
<text x="427.10" y="551.58" fill="#0f5fdc" >(3.1)</text>
<text x="474.28" y="551.58" fill="#0f5fdc" >ABC</text>
<text x="514.72" y="551.58" fill="#0f5fdc" >-17.7</text>
<text x="568.64" y="551.58" fill="#0f5fdc" >-108.5</text>
<text x="622.56" y="551.58" fill="#0f5fdc" >2Edge</text>
<text x="676.48" y="551.58" fill="#0f5fdc" >63.7</text>
<text x="716.92" y="551.58" fill="#5c28be" >258°</text>
<text x="750.62" y="551.58" fill="#5c28be" >(269°)</text>
<text x="305.78" y="564.20" fill="#fff" >a</text>
<text x="312.52" y="564.20" fill="#fff" >C</text>
<text x="326.00" y="564.20" fill="#0f5fdc" >WPMT</text>
<text x="400.14" y="564.20" fill="#0f5fdc" >47</text>
<text x="420.36" y="564.20" fill="#0f5fdc" >(43.1)</text>
<text x="474.28" y="564.20" fill="#0f5fdc" >Fox</text>
<text x="514.72" y="564.20" fill="#0f5fdc" >-19.7</text>
<text x="568.64" y="564.20" fill="#0f5fdc" >-110.6</text>
<text x="622.56" y="564.20" fill="#0f5fdc" >Tropo</text>
<text x="676.48" y="564.20" fill="#0f5fdc" >97.4</text>
<text x="723.66" y="564.20" fill="#da681e" >29°</text>
<text x="757.36" y="564.20" fill="#da681e" >(39°)</text>
<text x="305.78" y="576.82" fill="#fff" >a</text>
<text x="312.52" y="576.82" fill="#fff" >C</text>
<text x="326.00" y="576.82" fill="#0f5fdc" >W08EE-D</text>
<text x="406.88" y="576.82" fill="#0f5fdc" >8</text>
<text x="514.72" y="576.82" fill="#0f5fdc" >-19.9</text>
<text x="568.64" y="576.82" fill="#0f5fdc" >-110.8</text>
<text x="622.56" y="576.82" fill="#0f5fdc" >2Edge</text>
<text x="676.48" y="576.82" fill="#0f5fdc" >55.7</text>
<text x="716.92" y="576.82" fill="#c81e70" >326°</text>
<text x="750.62" y="576.82" fill="#c81e70" >(336°)</text>
<text x="305.78" y="589.45" fill="#fff" >a</text>
<text x="312.52" y="589.45" fill="#fff" >C</text>
<text x="326.00" y="589.45" fill="#0f5fdc" >WTVR-DT</text>
<text x="400.14" y="589.45" fill="#0f5fdc" >25</text>
<text x="427.10" y="589.45" fill="#0f5fdc" >(6.1)</text>
<text x="474.28" y="589.45" fill="#0f5fdc" >CBS</text>
<text x="514.72" y="589.45" fill="#0f5fdc" >-19.9</text>
<text x="568.64" y="589.45" fill="#0f5fdc" >-110.8</text>
<text x="622.56" y="589.45" fill="#0f5fdc" >Tropo</text>
<text x="676.48" y="589.45" fill="#0f5fdc" >88.5</text>
<text x="716.92" y="589.45" fill="#1e96a0" >184°</text>
<text x="750.62" y="589.45" fill="#1e96a0" >(195°)</text>
<text x="312.52" y="602.07" fill="#fff" >C</text>
<text x="326.00" y="602.07" fill="#0f5fdc" >WJAL</text>
<text x="400.14" y="602.07" fill="#0f5fdc" >39</text>
<text x="420.36" y="602.07" fill="#0f5fdc" >(68.1)</text>
<text x="474.28" y="602.07" fill="#0f5fdc" >Ind</text>
<text x="514.72" y="602.07" fill="#0f5fdc" >-20.4</text>
<text x="568.64" y="602.07" fill="#0f5fdc" >-111.2</text>
<text x="622.56" y="602.07" fill="#0f5fdc" >2Edge</text>
<text x="676.48" y="602.07" fill="#0f5fdc" >80.1</text>
<text x="716.92" y="602.07" fill="#c81e48" >341°</text>
<text x="750.62" y="602.07" fill="#c81e48" >(352°)</text>
<text x="312.52" y="614.69" fill="#fff" >C</text>
<text x="326.00" y="614.69" fill="#0f5fdc" >WCVE-TV</text>
<text x="400.14" y="614.69" fill="#0f5fdc" >42</text>
<text x="420.36" y="614.69" fill="#0f5fdc" >(23.1)</text>
<text x="474.28" y="614.69" fill="#0f5fdc" >PBS</text>
<text x="514.72" y="614.69" fill="#0f5fdc" >-21.4</text>
<text x="568.64" y="614.69" fill="#0f5fdc" >-112.3</text>
<text x="622.56" y="614.69" fill="#0f5fdc" >Tropo</text>
<text x="676.48" y="614.69" fill="#0f5fdc" >88.5</text>
<text x="716.92" y="614.69" fill="#1e96a0" >184°</text>
<text x="750.62" y="614.69" fill="#1e96a0" >(195°)</text>
<text x="312.52" y="627.31" fill="#fff" >C</text>
<text x="326.00" y="627.31" fill="#0f5fdc" >WVPT</text>
<text x="400.14" y="627.31" fill="#0f5fdc" >11</text>
<text x="474.28" y="627.31" fill="#0f5fdc" >PBS</text>
<text x="514.72" y="627.31" fill="#0f5fdc" >-21.6</text>
<text x="568.64" y="627.31" fill="#0f5fdc" >-112.5</text>
<text x="622.56" y="627.31" fill="#0f5fdc" >2Edge</text>
<text x="669.74" y="627.31" fill="#0f5fdc" >108.5</text>
<text x="716.92" y="627.31" fill="#3e22b8" >247°</text>
<text x="750.62" y="627.31" fill="#3e22b8" >(257°)</text>
<text x="305.78" y="639.93" fill="#fff" >a</text>
<text x="312.52" y="639.93" fill="#fff" >C</text>
<text x="326.00" y="639.93" fill="#0f5fdc" >WGCB-DT</text>
<text x="400.14" y="639.93" fill="#0f5fdc" >30</text>
<text x="420.36" y="639.93" fill="#0f5fdc" >(49.1)</text>
<text x="474.28" y="639.93" fill="#0f5fdc" >Ind</text>
<text x="514.72" y="639.93" fill="#0f5fdc" >-21.8</text>
<text x="568.64" y="639.93" fill="#0f5fdc" >-112.7</text>
<text x="622.56" y="639.93" fill="#0f5fdc" >Tropo</text>
<text x="676.48" y="639.93" fill="#0f5fdc" >90.5</text>
<text x="723.66" y="639.93" fill="#d86c1e" >32°</text>
<text x="757.36" y="639.93" fill="#d86c1e" >(42°)</text>
<text x="312.52" y="652.55" fill="#fff" >C</text>
<text x="326.00" y="652.55" fill="#0f5fdc" >WWBT</text>
<text x="400.14" y="652.55" fill="#0f5fdc" >12</text>
<text x="420.36" y="652.55" fill="#0f5fdc" >(12.1)</text>
<text x="474.28" y="652.55" fill="#0f5fdc" >NBC</text>
<text x="514.72" y="652.55" fill="#0f5fdc" >-22.5</text>
<text x="568.64" y="652.55" fill="#0f5fdc" >-113.3</text>
<text x="622.56" y="652.55" fill="#0f5fdc" >Tropo</text>
<text x="676.48" y="652.55" fill="#0f5fdc" >88.7</text>
<text x="716.92" y="652.55" fill="#1f96a3" >181°</text>
<text x="750.62" y="652.55" fill="#1f96a3" >(191°)</text>
<text x="312.52" y="665.18" fill="#fff" >C</text>
<text x="326.00" y="665.18" fill="#0f5fdc" >WHTJ</text>
<text x="400.14" y="665.18" fill="#0f5fdc" >46</text>
<text x="420.36" y="665.18" fill="#0f5fdc" >(41.1)</text>
<text x="474.28" y="665.18" fill="#0f5fdc" >PBS</text>
<text x="514.72" y="665.18" fill="#0f5fdc" >-23.0</text>
<text x="568.64" y="665.18" fill="#0f5fdc" >-113.8</text>
<text x="622.56" y="665.18" fill="#0f5fdc" >Tropo</text>
<text x="676.48" y="665.18" fill="#0f5fdc" >78.0</text>
<text x="716.92" y="665.18" fill="#282cb4" >225°</text>
<text x="750.62" y="665.18" fill="#282cb4" >(235°)</text>
<text x="312.52" y="677.80" fill="#fff" >C</text>
<text x="326.00" y="677.80" fill="#0f5fdc" >WCAV-DT</text>
<text x="400.14" y="677.80" fill="#0f5fdc" >19</text>
<text x="420.36" y="677.80" fill="#0f5fdc" >(19.1)</text>
<text x="474.28" y="677.80" fill="#0f5fdc" >CBS</text>
<text x="514.72" y="677.80" fill="#0f5fdc" >-23.3</text>
<text x="568.64" y="677.80" fill="#0f5fdc" >-114.2</text>
<text x="622.56" y="677.80" fill="#0f5fdc" >Tropo</text>
<text x="676.48" y="677.80" fill="#0f5fdc" >77.9</text>
<text x="716.92" y="677.80" fill="#282cb4" >225°</text>
<text x="750.62" y="677.80" fill="#282cb4" >(235°)</text>
</g>
<rect x="347" y="617.6" width="6.6" height="11.2" fill="#c40000"/>
<text x="347.2" y="626.6" font-family="'DejaVu Sans Mono','Liberation Mono',monospace" font-size="10.6px" fill="#fff">C</text>
<text x="361" y="627.6" font-family="'DejaVu Sans','Liberation Sans',sans-serif" font-size="11px" fill="#111" textLength="122.8" lengthAdjust="spacingAndGlyphs">= Co-channel warning</text>
<rect x="557.6" y="617.6" width="6.8" height="11.2" fill="#ff8c8c"/>
<text x="557.8" y="626.6" font-family="'DejaVu Sans Mono','Liberation Mono',monospace" font-size="10.6px" fill="#fff">a</text>
<text x="572" y="627.6" font-family="'DejaVu Sans','Liberation Sans',sans-serif" font-size="11px" fill="#111" textLength="156.3" lengthAdjust="spacingAndGlyphs">= Adjacent channel warning</text>
<rect x="39.4" y="636.9" width="9.7" height="123.39999999999998" fill="#e8e8e8"/>
<rect x="70.2" y="632.4" width="30.6" height="127.89999999999998" fill="#e8e8e8"/>
<line x1="8.80" y1="645.5" x2="172.80" y2="645.5" stroke="#000" stroke-width="1" stroke-opacity="0.2"/>
<line x1="9" y1="645.5" x2="172.80" y2="645.5" stroke="#444" stroke-width="1" stroke-dasharray="1 1" stroke-opacity="0.62"/>
<line x1="8.80" y1="657.5" x2="172.80" y2="657.5" stroke="#000" stroke-width="1" stroke-opacity="0.2"/>
<line x1="9" y1="657.5" x2="172.80" y2="657.5" stroke="#444" stroke-width="1" stroke-dasharray="1 1" stroke-opacity="0.62"/>
<line x1="8.80" y1="670.5" x2="172.80" y2="670.5" stroke="#000" stroke-width="1" stroke-opacity="0.2"/>
<line x1="9" y1="670.5" x2="172.80" y2="670.5" stroke="#444" stroke-width="1" stroke-dasharray="1 1" stroke-opacity="0.62"/>
<line x1="8.80" y1="683.5" x2="172.80" y2="683.5" stroke="#000" stroke-width="1" stroke-opacity="0.2"/>
<line x1="9" y1="683.5" x2="172.80" y2="683.5" stroke="#444" stroke-width="1" stroke-dasharray="1 1" stroke-opacity="0.62"/>
<line x1="8.80" y1="696.5" x2="172.80" y2="696.5" stroke="#000" stroke-width="1" stroke-opacity="0.2"/>
<line x1="9" y1="696.5" x2="172.80" y2="696.5" stroke="#444" stroke-width="1" stroke-dasharray="1 1" stroke-opacity="0.62"/>
<line x1="8.80" y1="708.5" x2="172.80" y2="708.5" stroke="#000" stroke-width="1" stroke-opacity="0.2"/>
<line x1="9" y1="708.5" x2="172.80" y2="708.5" stroke="#444" stroke-width="1" stroke-dasharray="1 1" stroke-opacity="0.62"/>
<line x1="8.80" y1="721.5" x2="172.80" y2="721.5" stroke="#000" stroke-width="1" stroke-opacity="0.2"/>
<line x1="9" y1="721.5" x2="172.80" y2="721.5" stroke="#444" stroke-width="1" stroke-dasharray="1 1" stroke-opacity="0.62"/>
<line x1="8.80" y1="734.5" x2="172.80" y2="734.5" stroke="#000" stroke-width="1" stroke-opacity="0.2"/>
<line x1="9" y1="734.5" x2="172.80" y2="734.5" stroke="#444" stroke-width="1" stroke-dasharray="1 1" stroke-opacity="0.62"/>
<line x1="8.80" y1="747.5" x2="172.80" y2="747.5" stroke="#000" stroke-width="1" stroke-opacity="0.2"/>
<line x1="9" y1="747.5" x2="172.80" y2="747.5" stroke="#444" stroke-width="1" stroke-dasharray="1 1" stroke-opacity="0.62"/>
<rect x="39.4" y="636.9" width="9.7" height="123.39999999999998" fill="#e8e8e8" fill-opacity="0.6"/>
<rect x="70.2" y="632.4" width="30.6" height="127.89999999999998" fill="#e8e8e8" fill-opacity="0.6"/>
<line x1="215.60" y1="645.5" x2="791.50" y2="645.5" stroke="#000" stroke-width="1" stroke-opacity="0.2"/>
<line x1="216" y1="645.5" x2="791.50" y2="645.5" stroke="#444" stroke-width="1" stroke-dasharray="1 1" stroke-opacity="0.62"/>
<line x1="215.60" y1="657.5" x2="791.50" y2="657.5" stroke="#000" stroke-width="1" stroke-opacity="0.2"/>
<line x1="216" y1="657.5" x2="791.50" y2="657.5" stroke="#444" stroke-width="1" stroke-dasharray="1 1" stroke-opacity="0.62"/>
<line x1="215.60" y1="670.5" x2="791.50" y2="670.5" stroke="#000" stroke-width="1" stroke-opacity="0.2"/>
<line x1="216" y1="670.5" x2="791.50" y2="670.5" stroke="#444" stroke-width="1" stroke-dasharray="1 1" stroke-opacity="0.62"/>
<line x1="215.60" y1="683.5" x2="791.50" y2="683.5" stroke="#000" stroke-width="1" stroke-opacity="0.2"/>
<line x1="216" y1="683.5" x2="791.50" y2="683.5" stroke="#444" stroke-width="1" stroke-dasharray="1 1" stroke-opacity="0.62"/>
<line x1="215.60" y1="696.5" x2="791.50" y2="696.5" stroke="#000" stroke-width="1" stroke-opacity="0.2"/>
<line x1="216" y1="696.5" x2="791.50" y2="696.5" stroke="#444" stroke-width="1" stroke-dasharray="1 1" stroke-opacity="0.62"/>
<line x1="215.60" y1="708.5" x2="791.50" y2="708.5" stroke="#000" stroke-width="1" stroke-opacity="0.2"/>
<line x1="216" y1="708.5" x2="791.50" y2="708.5" stroke="#444" stroke-width="1" stroke-dasharray="1 1" stroke-opacity="0.62"/>
<line x1="215.60" y1="721.5" x2="791.50" y2="721.5" stroke="#000" stroke-width="1" stroke-opacity="0.2"/>
<line x1="216" y1="721.5" x2="791.50" y2="721.5" stroke="#444" stroke-width="1" stroke-dasharray="1 1" stroke-opacity="0.62"/>
<line x1="215.60" y1="734.5" x2="791.50" y2="734.5" stroke="#000" stroke-width="1" stroke-opacity="0.2"/>
<line x1="216" y1="734.5" x2="791.50" y2="734.5" stroke="#444" stroke-width="1" stroke-dasharray="1 1" stroke-opacity="0.62"/>
<line x1="215.60" y1="747.5" x2="791.50" y2="747.5" stroke="#000" stroke-width="1" stroke-opacity="0.2"/>
<line x1="216" y1="747.5" x2="791.50" y2="747.5" stroke="#444" stroke-width="1" stroke-dasharray="1 1" stroke-opacity="0.62"/>
<line x1="7.8" y1="631.45" x2="7.8" y2="761.25" stroke="#000" stroke-width="1.9"/>
<line x1="173.8" y1="631.45" x2="173.8" y2="761.25" stroke="#000" stroke-width="1.9"/>
<line x1="7.80" y1="632.4" x2="12.90" y2="632.4" stroke="#000" stroke-width="1.9"/>
<line x1="65.00" y1="632.4" x2="110.50" y2="632.4" stroke="#000" stroke-width="1.9"/>
<line x1="163.50" y1="632.4" x2="173.80" y2="632.4" stroke="#000" stroke-width="1.9"/>
<line x1="7.80" y1="760.3" x2="9.25" y2="760.3" stroke="#000" stroke-width="1.9"/>
<line x1="16.95" y1="760.3" x2="30.15" y2="760.3" stroke="#000" stroke-width="1.9"/>
<line x1="37.85" y1="760.3" x2="51.40" y2="760.3" stroke="#000" stroke-width="1.9"/>
<line x1="59.10" y1="760.3" x2="61.40" y2="760.3" stroke="#000" stroke-width="1.9"/>
<line x1="69.10" y1="760.3" x2="102.15" y2="760.3" stroke="#000" stroke-width="1.9"/>
<line x1="109.85" y1="760.3" x2="122.85" y2="760.3" stroke="#000" stroke-width="1.9"/>
<line x1="130.55" y1="760.3" x2="140.80" y2="760.3" stroke="#000" stroke-width="1.9"/>
<line x1="154.00" y1="760.3" x2="161.50" y2="760.3" stroke="#000" stroke-width="1.9"/>
<line x1="214.6" y1="631.45" x2="214.6" y2="761.25" stroke="#000" stroke-width="1.9"/>
<line x1="792.5" y1="631.45" x2="792.5" y2="761.25" stroke="#000" stroke-width="1.9"/>
<line x1="214.60" y1="632.4" x2="482.50" y2="632.4" stroke="#000" stroke-width="1.9"/>
<line x1="524.00" y1="632.4" x2="792.50" y2="632.4" stroke="#000" stroke-width="1.9"/>
<line x1="225.90" y1="760.3" x2="233.34" y2="760.3" stroke="#000" stroke-width="1.9"/>
<line x1="246.54" y1="760.3" x2="264.30" y2="760.3" stroke="#000" stroke-width="1.9"/>
<line x1="277.50" y1="760.3" x2="295.26" y2="760.3" stroke="#000" stroke-width="1.9"/>
<line x1="308.46" y1="760.3" x2="326.22" y2="760.3" stroke="#000" stroke-width="1.9"/>
<line x1="339.42" y1="760.3" x2="357.18" y2="760.3" stroke="#000" stroke-width="1.9"/>
<line x1="370.38" y1="760.3" x2="388.14" y2="760.3" stroke="#000" stroke-width="1.9"/>
<line x1="401.34" y1="760.3" x2="419.10" y2="760.3" stroke="#000" stroke-width="1.9"/>
<line x1="432.30" y1="760.3" x2="450.06" y2="760.3" stroke="#000" stroke-width="1.9"/>
<line x1="463.26" y1="760.3" x2="481.02" y2="760.3" stroke="#000" stroke-width="1.9"/>
<line x1="494.22" y1="760.3" x2="511.98" y2="760.3" stroke="#000" stroke-width="1.9"/>
<line x1="525.18" y1="760.3" x2="542.94" y2="760.3" stroke="#000" stroke-width="1.9"/>
<line x1="556.14" y1="760.3" x2="573.90" y2="760.3" stroke="#000" stroke-width="1.9"/>
<line x1="587.10" y1="760.3" x2="604.86" y2="760.3" stroke="#000" stroke-width="1.9"/>
<line x1="618.06" y1="760.3" x2="635.82" y2="760.3" stroke="#000" stroke-width="1.9"/>
<line x1="649.02" y1="760.3" x2="666.78" y2="760.3" stroke="#000" stroke-width="1.9"/>
<line x1="679.98" y1="760.3" x2="697.74" y2="760.3" stroke="#000" stroke-width="1.9"/>
<line x1="710.94" y1="760.3" x2="728.70" y2="760.3" stroke="#000" stroke-width="1.9"/>
<line x1="741.90" y1="760.3" x2="759.66" y2="760.3" stroke="#000" stroke-width="1.9"/>
<line x1="772.86" y1="760.3" x2="780.30" y2="760.3" stroke="#000" stroke-width="1.9"/>
<text x="13.10" y="762.0" text-anchor="middle" font-family="'DejaVu Sans','Liberation Sans',sans-serif" font-size="7px" letter-spacing="0" fill="#222">2</text>
<text x="34.00" y="762.0" text-anchor="middle" font-family="'DejaVu Sans','Liberation Sans',sans-serif" font-size="7px" letter-spacing="0" fill="#222">4</text>
<text x="55.25" y="762.0" text-anchor="middle" font-family="'DejaVu Sans','Liberation Sans',sans-serif" font-size="7px" letter-spacing="0" fill="#222">5</text>
<text x="65.25" y="762.0" text-anchor="middle" font-family="'DejaVu Sans','Liberation Sans',sans-serif" font-size="7px" letter-spacing="0" fill="#222">6</text>
<text x="106.00" y="762.0" text-anchor="middle" font-family="'DejaVu Sans','Liberation Sans',sans-serif" font-size="7px" letter-spacing="0" fill="#222">7</text>
<text x="126.70" y="762.0" text-anchor="middle" font-family="'DejaVu Sans','Liberation Sans',sans-serif" font-size="7px" letter-spacing="0" fill="#222">9</text>
<text x="147.40" y="762.0" text-anchor="middle" font-family="'DejaVu Sans','Liberation Sans',sans-serif" font-size="7px" letter-spacing="0.9" fill="#222">11</text>
<text x="168.10" y="762.0" text-anchor="middle" font-family="'DejaVu Sans','Liberation Sans',sans-serif" font-size="7px" letter-spacing="0.9" fill="#222">13</text>
<text x="219.30" y="762.0" text-anchor="middle" font-family="'DejaVu Sans','Liberation Sans',sans-serif" font-size="7px" letter-spacing="0.9" fill="#222">14</text>
<text x="239.94" y="762.0" text-anchor="middle" font-family="'DejaVu Sans','Liberation Sans',sans-serif" font-size="7px" letter-spacing="0.9" fill="#222">16</text>
<text x="270.90" y="762.0" text-anchor="middle" font-family="'DejaVu Sans','Liberation Sans',sans-serif" font-size="7px" letter-spacing="0.9" fill="#222">19</text>
<text x="301.86" y="762.0" text-anchor="middle" font-family="'DejaVu Sans','Liberation Sans',sans-serif" font-size="7px" letter-spacing="0.9" fill="#222">22</text>
<text x="332.82" y="762.0" text-anchor="middle" font-family="'DejaVu Sans','Liberation Sans',sans-serif" font-size="7px" letter-spacing="0.9" fill="#222">25</text>
<text x="363.78" y="762.0" text-anchor="middle" font-family="'DejaVu Sans','Liberation Sans',sans-serif" font-size="7px" letter-spacing="0.9" fill="#222">28</text>
<text x="394.74" y="762.0" text-anchor="middle" font-family="'DejaVu Sans','Liberation Sans',sans-serif" font-size="7px" letter-spacing="0.9" fill="#222">31</text>
<text x="425.70" y="762.0" text-anchor="middle" font-family="'DejaVu Sans','Liberation Sans',sans-serif" font-size="7px" letter-spacing="0.9" fill="#222">34</text>
<text x="456.66" y="762.0" text-anchor="middle" font-family="'DejaVu Sans','Liberation Sans',sans-serif" font-size="7px" letter-spacing="0.9" fill="#222">37</text>
<text x="487.62" y="762.0" text-anchor="middle" font-family="'DejaVu Sans','Liberation Sans',sans-serif" font-size="7px" letter-spacing="0.9" fill="#222">40</text>
<text x="518.58" y="762.0" text-anchor="middle" font-family="'DejaVu Sans','Liberation Sans',sans-serif" font-size="7px" letter-spacing="0.9" fill="#222">43</text>
<text x="549.54" y="762.0" text-anchor="middle" font-family="'DejaVu Sans','Liberation Sans',sans-serif" font-size="7px" letter-spacing="0.9" fill="#222">46</text>
<text x="580.50" y="762.0" text-anchor="middle" font-family="'DejaVu Sans','Liberation Sans',sans-serif" font-size="7px" letter-spacing="0.9" fill="#222">49</text>
<text x="611.46" y="762.0" text-anchor="middle" font-family="'DejaVu Sans','Liberation Sans',sans-serif" font-size="7px" letter-spacing="0.9" fill="#222">52</text>
<text x="642.42" y="762.0" text-anchor="middle" font-family="'DejaVu Sans','Liberation Sans',sans-serif" font-size="7px" letter-spacing="0.9" fill="#222">55</text>
<text x="673.38" y="762.0" text-anchor="middle" font-family="'DejaVu Sans','Liberation Sans',sans-serif" font-size="7px" letter-spacing="0.9" fill="#222">58</text>
<text x="704.34" y="762.0" text-anchor="middle" font-family="'DejaVu Sans','Liberation Sans',sans-serif" font-size="7px" letter-spacing="0.9" fill="#222">61</text>
<text x="735.30" y="762.0" text-anchor="middle" font-family="'DejaVu Sans','Liberation Sans',sans-serif" font-size="7px" letter-spacing="0.9" fill="#222">64</text>
<text x="766.26" y="762.0" text-anchor="middle" font-family="'DejaVu Sans','Liberation Sans',sans-serif" font-size="7px" letter-spacing="0.9" fill="#222">67</text>
<text x="786.90" y="762.0" text-anchor="middle" font-family="'DejaVu Sans','Liberation Sans',sans-serif" font-size="7px" letter-spacing="0.9" fill="#222">69</text>
<text x="39.3" y="636.1" text-anchor="middle" font-family="'Liberation Sans',sans-serif" font-weight="bold" font-size="11px" fill="#111" stroke="#fff" stroke-width="2.5" style="paint-order:stroke" textLength="38.5" lengthAdjust="spacingAndGlyphs">VHF Lo</text>
<text x="137.3" y="636.1" text-anchor="middle" font-family="'Liberation Sans',sans-serif" font-weight="bold" font-size="11px" fill="#111" stroke="#fff" stroke-width="2.5" style="paint-order:stroke" textLength="37" lengthAdjust="spacingAndGlyphs">VHF Hi</text>
<text x="503.5" y="636.1" text-anchor="middle" font-family="'Liberation Sans',sans-serif" font-weight="bold" font-size="11px" fill="#111" textLength="22" lengthAdjust="spacingAndGlyphs">UHF</text>
<text x="194" y="635.8" text-anchor="middle" font-family="'Liberation Sans',sans-serif" font-size="10.5px" fill="#111" textLength="22.2" lengthAdjust="spacingAndGlyphs">dBm</text>
<text x="194.2" y="647.60" text-anchor="middle" font-family="'Liberation Sans',sans-serif" font-size="10px" fill="#111" textLength="16.3" lengthAdjust="spacingAndGlyphs">-10</text>
<text x="194.2" y="659.60" text-anchor="middle" font-family="'Liberation Sans',sans-serif" font-size="10px" fill="#111" textLength="16.3" lengthAdjust="spacingAndGlyphs">-20</text>
<text x="194.2" y="672.60" text-anchor="middle" font-family="'Liberation Sans',sans-serif" font-size="10px" fill="#111" textLength="16.3" lengthAdjust="spacingAndGlyphs">-30</text>
<text x="194.2" y="685.60" text-anchor="middle" font-family="'Liberation Sans',sans-serif" font-size="10px" fill="#111" textLength="16.3" lengthAdjust="spacingAndGlyphs">-40</text>
<text x="194.2" y="698.60" text-anchor="middle" font-family="'Liberation Sans',sans-serif" font-size="10px" fill="#111" textLength="16.3" lengthAdjust="spacingAndGlyphs">-50</text>
<text x="194.2" y="710.60" text-anchor="middle" font-family="'Liberation Sans',sans-serif" font-size="10px" fill="#111" textLength="16.3" lengthAdjust="spacingAndGlyphs">-60</text>
<text x="194.2" y="723.60" text-anchor="middle" font-family="'Liberation Sans',sans-serif" font-size="10px" fill="#111" textLength="16.3" lengthAdjust="spacingAndGlyphs">-70</text>
<text x="194.2" y="736.60" text-anchor="middle" font-family="'Liberation Sans',sans-serif" font-size="10px" fill="#111" textLength="16.3" lengthAdjust="spacingAndGlyphs">-80</text>
<text x="194.2" y="749.60" text-anchor="middle" font-family="'Liberation Sans',sans-serif" font-size="10px" fill="#111" textLength="16.3" lengthAdjust="spacingAndGlyphs">-90</text>
<text x="194" y="761.8" text-anchor="middle" font-family="'Liberation Sans',sans-serif" font-size="9.6px" fill="#333" textLength="33.5" lengthAdjust="spacingAndGlyphs">Channel</text>
<g opacity="0.5"><rect x="161.70" y="751.10" width="12.8" height="6.2" rx="3" fill="#f4ee00"/><rect x="163.30" y="752.60" width="9.6" height="3.2" rx="1" fill="#0c4fc4"/><text transform="translate(171.50,749.00) rotate(-90) scale(1.03,1)" font-family="'DejaVu Sans','Liberation Sans',sans-serif" font-size="9.4px" fill="#1c66dc" stroke="#fff" stroke-width="1.5" stroke-opacity="0.75" stroke-linejoin="round" style="paint-order:stroke">WJZ-TV</text></g>
<g opacity="0.5"><rect x="151.35" y="749.57" width="12.8" height="6.2" rx="3" fill="#f4ee00"/><rect x="152.95" y="751.07" width="9.6" height="3.2" rx="1" fill="#0c4fc4"/><text transform="translate(161.15,747.47) rotate(-90) scale(1.03,1)" font-family="'DejaVu Sans','Liberation Sans',sans-serif" font-size="9.4px" fill="#1c66dc" stroke="#fff" stroke-width="1.5" stroke-opacity="0.75" stroke-linejoin="round" style="paint-order:stroke">WWPX-DT</text></g>
<g opacity="0.5"><rect x="141.00" y="746.63" width="12.8" height="6.2" rx="3" fill="#f4ee00"/><rect x="142.60" y="748.13" width="9.6" height="3.2" rx="1" fill="#0c4fc4"/><text transform="translate(150.80,744.53) rotate(-90) scale(1.03,1)" font-family="'DejaVu Sans','Liberation Sans',sans-serif" font-size="9.4px" fill="#1c66dc" stroke="#fff" stroke-width="1.5" stroke-opacity="0.75" stroke-linejoin="round" style="paint-order:stroke">WBAL-TV</text></g>
<g opacity="0.5"><rect x="151.35" y="744.85" width="12.8" height="6.2" rx="3" fill="#f4ee00"/><rect x="152.95" y="746.35" width="9.6" height="3.2" rx="1" fill="#0c4fc4"/><text transform="translate(161.15,742.75) rotate(-90) scale(1.03,1)" font-family="'DejaVu Sans','Liberation Sans',sans-serif" font-size="9.4px" fill="#1c66dc" stroke="#fff" stroke-width="1.5" stroke-opacity="0.75" stroke-linejoin="round" style="paint-order:stroke">WWPX-TV</text></g>
<g opacity="1"><rect x="120.30" y="697.63" width="12.8" height="6.2" rx="3" fill="#f4ee00"/><rect x="121.90" y="699.13" width="9.6" height="3.2" rx="1" fill="#0c4fc4"/><text transform="translate(130.10,695.53) rotate(-90) scale(1.03,1)" font-family="'DejaVu Sans','Liberation Sans',sans-serif" font-size="9.4px" fill="#1c66dc" stroke="#fff" stroke-width="1.5" stroke-opacity="0.75" stroke-linejoin="round" style="paint-order:stroke">WUSA</text></g>
<g opacity="1"><rect x="99.60" y="696.74" width="12.8" height="6.2" rx="3" fill="#f4ee00"/><rect x="101.20" y="698.24" width="9.6" height="3.2" rx="1" fill="#0c4fc4"/><text transform="translate(109.40,694.64) rotate(-90) scale(1.03,1)" font-family="'DejaVu Sans','Liberation Sans',sans-serif" font-size="9.4px" fill="#1c66dc" stroke="#fff" stroke-width="1.5" stroke-opacity="0.75" stroke-linejoin="round" style="paint-order:stroke">WJLA-TV</text></g>
<g opacity="0.5"><rect x="338.34" y="758.21" width="9.6" height="3.2" rx="1" fill="#0c4fc4"/><text transform="translate(346.54,754.61) rotate(-90) scale(1.03,1)" font-family="'DejaVu Sans','Liberation Sans',sans-serif" font-size="9.4px" fill="#1c66dc" stroke="#fff" stroke-width="1.5" stroke-opacity="0.75" stroke-linejoin="round" style="paint-order:stroke">WHAG-DT</text></g>
<g opacity="0.5"><rect x="544.74" y="753.24" width="9.6" height="3.2" rx="1" fill="#0c4fc4"/><text transform="translate(552.94,749.64) rotate(-90) scale(1.03,1)" font-family="'DejaVu Sans','Liberation Sans',sans-serif" font-size="9.4px" fill="#1c66dc" stroke="#fff" stroke-width="1.5" stroke-opacity="0.75" stroke-linejoin="round" style="paint-order:stroke">WBFF</text></g>
<g opacity="0.5"><rect x="297.06" y="750.68" width="9.6" height="3.2" rx="1" fill="#0c4fc4"/><text transform="translate(305.26,747.08) rotate(-90) scale(1.03,1)" font-family="'DejaVu Sans','Liberation Sans',sans-serif" font-size="9.4px" fill="#1c66dc" stroke="#fff" stroke-width="1.5" stroke-opacity="0.75" stroke-linejoin="round" style="paint-order:stroke">WMDO-LD</text></g>
<g opacity="0.5"><rect x="482.82" y="750.56" width="9.6" height="3.2" rx="1" fill="#0c4fc4"/><text transform="translate(491.02,746.96) rotate(-90) scale(1.03,1)" font-family="'DejaVu Sans','Liberation Sans',sans-serif" font-size="9.4px" fill="#1c66dc" stroke="#fff" stroke-width="1.5" stroke-opacity="0.75" stroke-linejoin="round" style="paint-order:stroke">WNUV-DT</text></g>
<g opacity="0.5"><rect x="389.94" y="750.05" width="9.6" height="3.2" rx="1" fill="#0c4fc4"/><text transform="translate(398.14,746.45) rotate(-90) scale(1.03,1)" font-family="'DejaVu Sans','Liberation Sans',sans-serif" font-size="9.4px" fill="#1c66dc" stroke="#fff" stroke-width="1.5" stroke-opacity="0.75" stroke-linejoin="round" style="paint-order:stroke">WETA-TV</text></g>
<g opacity="0.5"><rect x="544.74" y="749.66" width="9.6" height="3.2" rx="1" fill="#0c4fc4"/><text transform="translate(552.94,746.06) rotate(-90) scale(1.03,1)" font-family="'DejaVu Sans','Liberation Sans',sans-serif" font-size="9.4px" fill="#1c66dc" stroke="#fff" stroke-width="1.5" stroke-opacity="0.75" stroke-linejoin="round" style="paint-order:stroke">WAZW-LD</text></g>
<g opacity="1"><rect x="462.18" y="748.39" width="9.6" height="3.2" rx="1" fill="#0c4fc4"/><text transform="translate(470.38,744.79) rotate(-90) scale(1.03,1)" font-family="'DejaVu Sans','Liberation Sans',sans-serif" font-size="9.4px" fill="#1c66dc" stroke="#fff" stroke-width="1.5" stroke-opacity="0.75" stroke-linejoin="round" style="paint-order:stroke">WMAR-TV</text></g>
<g opacity="1"><rect x="358.98" y="748.00" width="9.6" height="3.2" rx="1" fill="#0c4fc4"/><text transform="translate(367.18,744.40) rotate(-90) scale(1.03,1)" font-family="'DejaVu Sans','Liberation Sans',sans-serif" font-size="9.4px" fill="#1c66dc" stroke="#fff" stroke-width="1.5" stroke-opacity="0.75" stroke-linejoin="round" style="paint-order:stroke">WFPT-DT</text></g>
<g opacity="0.5"><rect x="503.46" y="745.84" width="9.6" height="3.2" rx="1" fill="#0c4fc4"/><text transform="translate(511.66,742.24) rotate(-90) scale(1.03,1)" font-family="'DejaVu Sans','Liberation Sans',sans-serif" font-size="9.4px" fill="#1c66dc" stroke="#fff" stroke-width="1.5" stroke-opacity="0.75" stroke-linejoin="round" style="paint-order:stroke">WMPT</text></g>
<g opacity="0.5"><rect x="235.14" y="744.05" width="9.6" height="3.2" rx="1" fill="#0c4fc4"/><text transform="translate(243.34,740.45) rotate(-90) scale(1.03,1)" font-family="'DejaVu Sans','Liberation Sans',sans-serif" font-size="9.4px" fill="#1c66dc" stroke="#fff" stroke-width="1.5" stroke-opacity="0.75" stroke-linejoin="round" style="paint-order:stroke">W22DA</text></g>
<g opacity="1"><rect x="286.74" y="742.13" width="9.6" height="3.2" rx="1" fill="#0c4fc4"/><text transform="translate(294.94,738.53) rotate(-90) scale(1.03,1)" font-family="'DejaVu Sans','Liberation Sans',sans-serif" font-size="9.4px" fill="#1c66dc" stroke="#fff" stroke-width="1.5" stroke-opacity="0.75" stroke-linejoin="round" style="paint-order:stroke">WVPY</text></g>
<g opacity="0.5"><rect x="575.70" y="738.82" width="9.6" height="3.2" rx="1" fill="#0c4fc4"/><text transform="translate(583.90,735.22) rotate(-90) scale(1.03,1)" font-family="'DejaVu Sans','Liberation Sans',sans-serif" font-size="9.4px" fill="#1c66dc" stroke="#fff" stroke-width="1.5" stroke-opacity="0.75" stroke-linejoin="round" style="paint-order:stroke">WWTD-LP</text></g>
<g opacity="0.5"><rect x="307.38" y="732.56" width="9.6" height="3.2" rx="1" fill="#0c4fc4"/><text transform="translate(315.58,728.96) rotate(-90) scale(1.03,1)" font-family="'DejaVu Sans','Liberation Sans',sans-serif" font-size="9.4px" fill="#1c66dc" stroke="#fff" stroke-width="1.5" stroke-opacity="0.75" stroke-linejoin="round" style="paint-order:stroke">WDDN-LD</text></g>
<g opacity="1"><rect x="214.50" y="729.12" width="9.6" height="3.2" rx="1" fill="#0c4fc4"/><text transform="translate(222.70,725.52) rotate(-90) scale(1.03,1)" font-family="'DejaVu Sans','Liberation Sans',sans-serif" font-size="9.4px" fill="#1c66dc" stroke="#fff" stroke-width="1.5" stroke-opacity="0.75" stroke-linejoin="round" style="paint-order:stroke">WWTD-LD</text></g>
<g opacity="1"><rect x="348.66" y="717.13" width="9.6" height="3.2" rx="1" fill="#0c4fc4"/><text transform="translate(356.86,713.53) rotate(-90) scale(1.03,1)" font-family="'DejaVu Sans','Liberation Sans',sans-serif" font-size="9.4px" fill="#1c66dc" stroke="#fff" stroke-width="1.5" stroke-opacity="0.75" stroke-linejoin="round" style="paint-order:stroke">WETA-TV</text></g>
<g opacity="1"><rect x="586.02" y="714.83" width="9.6" height="3.2" rx="1" fill="#0c4fc4"/><text transform="translate(594.22,711.23) rotate(-90) scale(1.03,1)" font-family="'DejaVu Sans','Liberation Sans',sans-serif" font-size="9.4px" fill="#1c66dc" stroke="#fff" stroke-width="1.5" stroke-opacity="0.75" stroke-linejoin="round" style="paint-order:stroke">WDCW</text></g>
<g opacity="1"><rect x="565.38" y="709.47" width="9.6" height="3.2" rx="1" fill="#0c4fc4"/><text transform="translate(573.58,705.87) rotate(-90) scale(1.03,1)" font-family="'DejaVu Sans','Liberation Sans',sans-serif" font-size="9.4px" fill="#1c66dc" stroke="#fff" stroke-width="1.5" stroke-opacity="0.75" stroke-linejoin="round" style="paint-order:stroke">WRC-DT</text></g>
<g opacity="1"><rect x="224.82" y="709.21" width="9.6" height="3.2" rx="1" fill="#0c4fc4"/><text transform="translate(233.02,705.61) rotate(-90) scale(1.03,1)" font-family="'DejaVu Sans','Liberation Sans',sans-serif" font-size="9.4px" fill="#1c66dc" stroke="#fff" stroke-width="1.5" stroke-opacity="0.75" stroke-linejoin="round" style="paint-order:stroke">WFDC-DT</text></g>
<g opacity="1"><rect x="420.90" y="708.58" width="9.6" height="3.2" rx="1" fill="#0c4fc4"/><text transform="translate(429.10,704.98) rotate(-90) scale(1.03,1)" font-family="'DejaVu Sans','Liberation Sans',sans-serif" font-size="9.4px" fill="#1c66dc" stroke="#fff" stroke-width="1.5" stroke-opacity="0.75" stroke-linejoin="round" style="paint-order:stroke">WPXW-DT</text></g>
<g opacity="1"><rect x="431.22" y="707.43" width="9.6" height="3.2" rx="1" fill="#0c4fc4"/><text transform="translate(439.42,703.83) rotate(-90) scale(1.03,1)" font-family="'DejaVu Sans','Liberation Sans',sans-serif" font-size="9.4px" fill="#1c66dc" stroke="#fff" stroke-width="1.5" stroke-opacity="0.75" stroke-linejoin="round" style="paint-order:stroke">WDCA</text></g>
<g opacity="1"><rect x="441.54" y="707.43" width="9.6" height="3.2" rx="1" fill="#0c4fc4"/><text transform="translate(449.74,703.83) rotate(-90) scale(1.03,1)" font-family="'DejaVu Sans','Liberation Sans',sans-serif" font-size="9.4px" fill="#1c66dc" stroke="#fff" stroke-width="1.5" stroke-opacity="0.75" stroke-linejoin="round" style="paint-order:stroke">WTTG</text></g>
<g opacity="1"><rect x="410.58" y="703.98" width="9.6" height="3.2" rx="1" fill="#0c4fc4"/><text transform="translate(418.78,700.38) rotate(-90) scale(1.03,1)" font-family="'DejaVu Sans','Liberation Sans',sans-serif" font-size="9.4px" fill="#1c66dc" stroke="#fff" stroke-width="1.5" stroke-opacity="0.75" stroke-linejoin="round" style="paint-order:stroke">WHUT-TV</text></g>
<g opacity="1"><rect x="317.70" y="693.52" width="9.6" height="3.2" rx="1" fill="#0c4fc4"/><text transform="translate(325.90,689.92) rotate(-90) scale(1.03,1)" font-family="'DejaVu Sans','Liberation Sans',sans-serif" font-size="9.4px" fill="#1c66dc" stroke="#fff" stroke-width="1.5" stroke-opacity="0.75" stroke-linejoin="round" style="paint-order:stroke">WNVC-DT</text></g>
<g opacity="1"><rect x="307.38" y="687.27" width="9.6" height="3.2" rx="1" fill="#0c4fc4"/><text transform="translate(315.58,683.67) rotate(-90) scale(1.03,1)" font-family="'DejaVu Sans','Liberation Sans',sans-serif" font-size="9.4px" fill="#1c66dc" stroke="#fff" stroke-width="1.5" stroke-opacity="0.75" stroke-linejoin="round" style="paint-order:stroke">WDWA-LP</text></g>
<g opacity="1"><rect x="379.62" y="674.38" width="9.6" height="3.2" rx="1" fill="#0c4fc4"/><text transform="translate(387.82,670.78) rotate(-90) scale(1.03,1)" font-family="'DejaVu Sans','Liberation Sans',sans-serif" font-size="9.4px" fill="#1c66dc" stroke="#fff" stroke-width="1.5" stroke-opacity="0.75" stroke-linejoin="round" style="paint-order:stroke">WNVT-DT</text></g>
</svg></body></html>
